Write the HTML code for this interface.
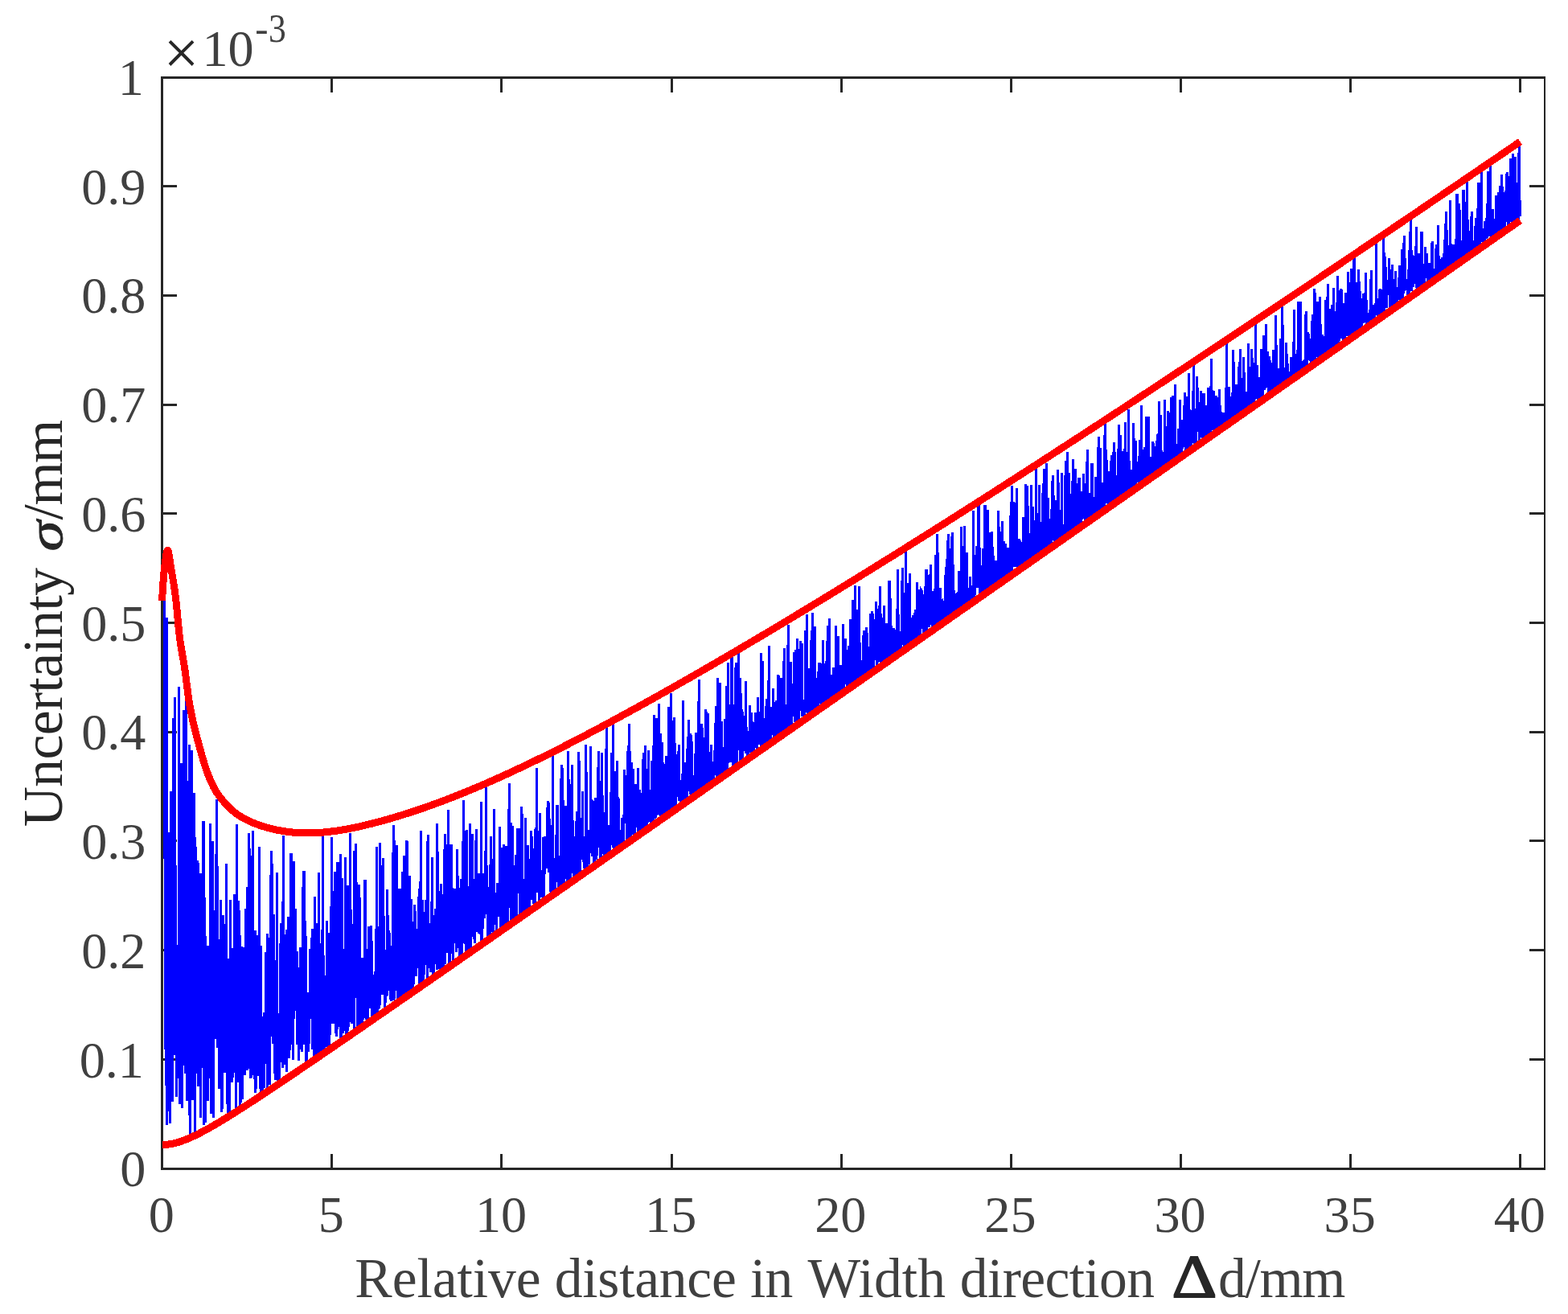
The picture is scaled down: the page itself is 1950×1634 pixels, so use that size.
<!DOCTYPE html>
<html lang="en"><head><meta charset="utf-8"><title>Uncertainty vs relative distance</title>
<style>html,body{margin:0;padding:0;background:#fff;}body{width:1950px;height:1634px;overflow:hidden;}</style></head>
<body>
<svg width="1950" height="1634" viewBox="0 0 1950 1634" style="display:block">
<rect x="0" y="0" width="1950" height="1634" fill="#ffffff"/>
<g shape-rendering="crispEdges">
<g fill="#262626">
<rect x="200" y="95" width="3" height="1360"/>
<rect x="200" y="95" width="1722" height="3"/>
<rect x="200" y="1452" width="1722" height="3"/>
<rect x="1920" y="95" width="2" height="1360"/>
<rect x="411" y="1435" width="3" height="18"/>
<rect x="411" y="97" width="3" height="18"/>
<rect x="622" y="1435" width="3" height="18"/>
<rect x="622" y="97" width="3" height="18"/>
<rect x="834" y="1435" width="3" height="18"/>
<rect x="834" y="97" width="3" height="18"/>
<rect x="1045" y="1435" width="3" height="18"/>
<rect x="1045" y="97" width="3" height="18"/>
<rect x="1256" y="1435" width="3" height="18"/>
<rect x="1256" y="97" width="3" height="18"/>
<rect x="1467" y="1435" width="3" height="18"/>
<rect x="1467" y="97" width="3" height="18"/>
<rect x="1678" y="1435" width="3" height="18"/>
<rect x="1678" y="97" width="3" height="18"/>
<rect x="1889" y="1435" width="3" height="18"/>
<rect x="1889" y="97" width="3" height="18"/>
<rect x="202" y="1316" width="18" height="3"/>
<rect x="1902" y="1316" width="19" height="3"/>
<rect x="202" y="1180" width="18" height="3"/>
<rect x="1902" y="1180" width="19" height="3"/>
<rect x="202" y="1044" width="18" height="3"/>
<rect x="1902" y="1044" width="19" height="3"/>
<rect x="202" y="909" width="18" height="3"/>
<rect x="1902" y="909" width="19" height="3"/>
<rect x="202" y="773" width="18" height="3"/>
<rect x="1902" y="773" width="19" height="3"/>
<rect x="202" y="637" width="18" height="3"/>
<rect x="1902" y="637" width="19" height="3"/>
<rect x="202" y="502" width="18" height="3"/>
<rect x="1902" y="502" width="19" height="3"/>
<rect x="202" y="366" width="18" height="3"/>
<rect x="1902" y="366" width="19" height="3"/>
<rect x="202" y="230" width="18" height="3"/>
<rect x="1902" y="230" width="19" height="3"/>
</g>
<clipPath id="plotclip"><rect x="203" y="98" width="1717" height="1354"/></clipPath>
<path d="M201.5,953.5 L201.9,948.6 L202.3,943.9 L202.8,939.4 L203.2,935.3 L203.6,715.9 L204.0,711.2 L204.5,707.2 L204.9,976.4 L205.3,1304.8 L205.7,1079.9 L206.1,1350.4 L206.6,1268.7 L207.0,767.9 L207.4,1399.4 L207.8,1104.8 L208.3,1381.9 L208.7,1360.8 L209.1,1249.7 L209.5,1070.9 L209.9,1034.9 L210.4,1318.3 L210.8,1222.7 L211.2,1277.9 L211.6,1396.7 L212.1,984.1 L212.5,1067.6 L212.9,991.6 L213.3,1305.5 L213.7,1343.3 L214.2,1275.1 L214.6,1370.1 L215.0,1312.6 L215.4,1276.4 L215.9,893.3 L216.3,1311.6 L216.7,1227.6 L217.1,866.8 L217.5,966.7 L218.0,1156.0 L218.4,1076.5 L218.8,1194.6 L219.2,1363.5 L219.7,1273.3 L220.1,1340.9 L220.5,1340.1 L220.9,1207.8 L221.3,1214.3 L221.8,1174.8 L222.2,1290.6 L222.6,854.4 L223.0,1337.8 L223.5,1373.1 L223.9,1334.2 L224.3,1234.5 L224.7,1286.3 L225.1,1046.4 L225.6,948.7 L226.0,1069.5 L226.4,1377.5 L226.8,1224.6 L227.3,1096.8 L227.7,1060.5 L228.1,1325.2 L228.5,1137.2 L228.9,882.8 L229.4,1087.0 L229.8,1054.2 L230.2,1335.3 L230.6,1222.2 L231.1,1175.0 L231.5,1314.4 L231.9,854.0 L232.3,1368.7 L232.7,1314.6 L233.2,971.0 L233.6,1091.0 L234.0,1282.6 L234.4,1233.6 L234.9,1100.7 L235.3,1386.8 L235.7,926.2 L236.1,1414.2 L236.5,1152.7 L237.0,1161.8 L237.4,1297.8 L237.8,1212.6 L238.2,932.8 L238.7,957.7 L239.1,1203.6 L239.5,1367.6 L239.9,1323.7 L240.3,1152.7 L240.8,1003.7 L241.2,986.0 L241.6,1152.0 L242.0,1041.0 L242.5,1220.9 L242.9,1408.2 L243.3,1176.5 L243.7,1053.2 L244.1,1159.3 L244.6,1220.1 L245.0,1186.2 L245.4,1317.9 L245.8,1069.6 L246.3,1350.6 L246.7,1072.8 L247.1,1284.7 L247.5,1149.9 L247.9,1266.3 L248.4,1104.1 L248.8,1086.4 L249.2,1262.2 L249.6,1389.9 L250.1,1183.2 L250.5,1140.0 L250.9,1085.6 L251.3,1110.2 L251.7,1162.7 L252.2,1327.8 L252.6,1235.3 L253.0,1020.8 L253.4,1398.6 L253.9,1209.5 L254.3,1116.3 L254.7,1354.2 L255.1,1164.2 L255.5,1396.2 L256.0,1329.1 L256.4,1278.4 L256.8,1280.2 L257.2,1343.8 L257.7,1240.0 L258.1,1369.3 L258.5,1176.4 L258.9,1220.0 L259.3,1223.0 L259.8,1341.1 L260.2,1207.9 L260.6,1320.6 L261.0,1255.7 L261.5,1024.3 L261.9,1215.4 L262.3,1168.5 L262.7,1384.6 L263.1,1335.6 L263.6,1336.9 L264.0,1327.6 L264.4,1206.0 L264.8,1046.3 L265.3,1375.6 L265.7,1389.7 L266.1,1132.3 L266.5,1178.3 L266.9,1259.8 L267.4,1175.9 L267.8,1175.6 L268.2,1230.2 L268.6,1291.7 L269.1,1020.4 L269.5,1215.9 L269.9,994.0 L270.3,1303.3 L270.7,1179.7 L271.2,1263.3 L271.6,1168.0 L272.0,1303.4 L272.4,1258.2 L272.9,1354.3 L273.3,1266.3 L273.7,1210.0 L274.1,1194.0 L274.5,1119.3 L275.0,1284.8 L275.4,1216.2 L275.8,1382.6 L276.2,1376.7 L276.7,1224.7 L277.1,1137.7 L277.5,1184.9 L277.9,1262.1 L278.3,1267.2 L278.8,1211.9 L279.2,1313.5 L279.6,1334.1 L280.0,1149.5 L280.5,1285.7 L280.9,1299.6 L281.3,1262.7 L281.7,1074.4 L282.1,1373.4 L282.6,1269.5 L283.0,1191.9 L283.4,1383.6 L283.8,1246.7 L284.3,1213.9 L284.7,1294.2 L285.1,1229.0 L285.5,1292.7 L285.9,1381.8 L286.4,1119.0 L286.8,1341.2 L287.2,1209.2 L287.6,1318.8 L288.1,1191.5 L288.5,1336.0 L288.9,1346.0 L289.3,1326.2 L289.8,1178.6 L290.2,1222.7 L290.6,1248.6 L291.0,1324.2 L291.4,1142.1 L291.9,1112.1 L292.3,1291.5 L292.7,1168.8 L293.1,1381.7 L293.6,1234.0 L294.0,1205.3 L294.4,1138.5 L294.8,1025.4 L295.2,1248.3 L295.7,1123.7 L296.1,1345.9 L296.5,1120.5 L296.9,1236.9 L297.4,1254.0 L297.8,1131.7 L298.2,1189.9 L298.6,1343.1 L299.0,1376.4 L299.5,1284.1 L299.9,1335.5 L300.3,1240.9 L300.7,1177.3 L301.2,1367.2 L301.6,1218.8 L302.0,1189.8 L302.4,1177.7 L302.8,1194.7 L303.3,1303.7 L303.7,1215.4 L304.1,1336.9 L304.5,1249.3 L305.0,1319.2 L305.4,1261.8 L305.8,1130.1 L306.2,1300.2 L306.6,1324.2 L307.1,1103.5 L307.5,1277.9 L307.9,1330.5 L308.3,1218.5 L308.8,1251.9 L309.2,1252.0 L309.6,1035.8 L310.0,1329.2 L310.4,1055.3 L310.9,1266.2 L311.3,1341.0 L311.7,1063.9 L312.1,1339.5 L312.6,1326.5 L313.0,1072.8 L313.4,1293.6 L313.8,1242.0 L314.2,1032.8 L314.7,1245.4 L315.1,1237.4 L315.5,1337.3 L315.9,1268.4 L316.4,1332.5 L316.8,1341.6 L317.2,1156.8 L317.6,1358.6 L318.0,1336.8 L318.5,1318.1 L318.9,1353.6 L319.3,1206.4 L319.7,1163.5 L320.2,1258.8 L320.6,1309.3 L321.0,1337.6 L321.4,1296.3 L321.8,1260.1 L322.3,1199.9 L322.7,1052.7 L323.1,1354.1 L323.5,1264.3 L324.0,1314.2 L324.4,1176.0 L324.8,1357.7 L325.2,1302.4 L325.6,1351.5 L326.1,1285.0 L326.5,1313.6 L326.9,1359.0 L327.3,1264.4 L327.8,1317.9 L328.2,1341.5 L328.6,1353.0 L329.0,1258.7 L329.4,1322.7 L329.9,1283.6 L330.3,1304.5 L330.7,1184.4 L331.1,1307.2 L331.6,1211.1 L332.0,1276.2 L332.4,1161.1 L332.8,1354.0 L333.2,1165.7 L333.7,1326.1 L334.1,1283.9 L334.5,1246.0 L334.9,1346.7 L335.4,1324.5 L335.8,1349.1 L336.2,1088.1 L336.6,1236.9 L337.0,1214.4 L337.5,1248.8 L337.9,1058.2 L338.3,1115.9 L338.7,1274.2 L339.2,1297.8 L339.6,1277.1 L340.0,1148.5 L340.4,1280.7 L340.8,1137.0 L341.3,1335.1 L341.7,1217.1 L342.1,1343.1 L342.5,1263.8 L343.0,1278.5 L343.4,1321.0 L343.8,1329.8 L344.2,1085.0 L344.6,1289.1 L345.1,1345.8 L345.5,1303.8 L345.9,1328.1 L346.3,1328.2 L346.8,1334.5 L347.2,1346.5 L347.6,1291.3 L348.0,1260.3 L348.4,1321.0 L348.9,1183.6 L349.3,1148.2 L349.7,1265.1 L350.1,1250.9 L350.6,1308.5 L351.0,1274.9 L351.4,1120.9 L351.8,1327.8 L352.2,1038.9 L352.7,1182.1 L353.1,1272.9 L353.5,1296.6 L353.9,1323.9 L354.4,1162.5 L354.8,1320.0 L355.2,1207.2 L355.6,1179.6 L356.0,1211.1 L356.5,1156.1 L356.9,1332.9 L357.3,1200.3 L357.7,1313.6 L358.2,1140.2 L358.6,1187.0 L359.0,1215.0 L359.4,1316.4 L359.8,1223.6 L360.3,1305.6 L360.7,1172.9 L361.1,1262.7 L361.5,1299.1 L362.0,1060.7 L362.4,1296.2 L362.8,1257.2 L363.2,1213.6 L363.6,1284.4 L364.1,1199.5 L364.5,1317.8 L364.9,1133.9 L365.3,1071.5 L365.8,1266.9 L366.2,1223.0 L366.6,1242.8 L367.0,1130.1 L367.4,1254.0 L367.9,1249.1 L368.3,1256.8 L368.7,1196.0 L369.1,1182.6 L369.6,1299.0 L370.0,1248.8 L370.4,1266.8 L370.8,1203.0 L371.2,1294.9 L371.7,1319.4 L372.1,1264.1 L372.5,1287.0 L372.9,1289.2 L373.4,1178.3 L373.8,1244.3 L374.2,1304.9 L374.6,1265.6 L375.0,1297.3 L375.5,1307.6 L375.9,1286.3 L376.3,1102.8 L376.7,1275.3 L377.2,1289.7 L377.6,1298.9 L378.0,1083.5 L378.4,1251.4 L378.8,1237.0 L379.3,1209.5 L379.7,1145.4 L380.1,1221.5 L380.5,1164.4 L381.0,1321.7 L381.4,1269.1 L381.8,1263.1 L382.2,1234.1 L382.6,1246.9 L383.1,1308.0 L383.5,1291.8 L383.9,1274.3 L384.3,1298.4 L384.8,1237.9 L385.2,1250.3 L385.6,1179.9 L386.0,1190.6 L386.4,1266.7 L386.9,1258.7 L387.3,1166.0 L387.7,1259.2 L388.1,1191.8 L388.6,1304.8 L389.0,1155.4 L389.4,1218.6 L389.8,1242.0 L390.2,1317.9 L390.7,1268.9 L391.1,1232.4 L391.5,1115.0 L391.9,1271.8 L392.4,1194.8 L392.8,1313.1 L393.2,1294.9 L393.6,1294.2 L394.0,1299.0 L394.5,1148.2 L394.9,1186.6 L395.3,1266.4 L395.7,1314.5 L396.2,1314.0 L396.6,1084.9 L397.0,1186.8 L397.4,1289.8 L397.8,1293.3 L398.3,1265.9 L398.7,1258.4 L399.1,1309.4 L399.5,1173.3 L400.0,1308.1 L400.4,1250.6 L400.8,1206.3 L401.2,1116.0 L401.6,1039.4 L402.1,1305.2 L402.5,1295.6 L402.9,1188.2 L403.3,1279.2 L403.8,1308.3 L404.2,1295.5 L404.6,1266.6 L405.0,1298.6 L405.4,1298.9 L405.9,1217.5 L406.3,1240.2 L406.7,1145.2 L407.1,1305.0 L407.6,1197.7 L408.0,1281.7 L408.4,1259.5 L408.8,1252.8 L409.2,1304.5 L409.7,1159.9 L410.1,1278.5 L410.5,1287.4 L410.9,1169.0 L411.4,1246.6 L411.8,1235.8 L412.2,1041.5 L412.6,1273.3 L413.0,1107.6 L413.5,1224.9 L413.9,1272.6 L414.3,1271.6 L414.7,1271.1 L415.2,1259.6 L415.6,1269.8 L416.0,1259.3 L416.4,1084.1 L416.8,1233.9 L417.3,1212.9 L417.7,1285.2 L418.1,1267.8 L418.5,1254.1 L419.0,1288.5 L419.4,1072.2 L419.8,1101.5 L420.2,1203.9 L420.6,1181.3 L421.1,1251.4 L421.5,1273.9 L421.9,1240.0 L422.3,1276.8 L422.8,1072.4 L423.2,1295.6 L423.6,1062.5 L424.0,1252.0 L424.4,1292.3 L424.9,1251.8 L425.3,1092.2 L425.7,1271.0 L426.1,1285.2 L426.6,1194.6 L427.0,1241.4 L427.4,1265.9 L427.8,1180.3 L428.2,1223.3 L428.7,1281.8 L429.1,1169.6 L429.5,1066.2 L429.9,1210.1 L430.4,1162.9 L430.8,1287.5 L431.2,1102.4 L431.6,1290.0 L432.0,1100.6 L432.5,1282.2 L432.9,1206.8 L433.3,1277.4 L433.7,1249.5 L434.2,1233.1 L434.6,1207.5 L435.0,1270.3 L435.4,1252.3 L435.8,1035.9 L436.3,1268.0 L436.7,1260.9 L437.1,1273.4 L437.5,1153.5 L438.0,1231.2 L438.4,1211.7 L438.8,1236.7 L439.2,1149.5 L439.6,1239.9 L440.1,1271.7 L440.5,1282.0 L440.9,1057.6 L441.3,1222.7 L441.8,1240.5 L442.2,1213.4 L442.6,1049.4 L443.0,1100.5 L443.4,1097.1 L443.9,1119.5 L444.3,1176.0 L444.7,1280.2 L445.1,1260.5 L445.6,1274.0 L446.0,1270.4 L446.4,1099.8 L446.8,1276.0 L447.2,1116.2 L447.7,1246.9 L448.1,1261.8 L448.5,1225.3 L448.9,1263.3 L449.4,1238.2 L449.8,1269.7 L450.2,1276.6 L450.6,1191.2 L451.0,1254.7 L451.5,1267.7 L451.9,1250.3 L452.3,1266.4 L452.7,1252.7 L453.2,1255.9 L453.6,1259.9 L454.0,1094.3 L454.4,1203.7 L454.9,1194.1 L455.3,1180.3 L455.7,1268.3 L456.1,1215.9 L456.5,1214.0 L457.0,1217.1 L457.4,1266.9 L457.8,1253.3 L458.2,1152.3 L458.7,1171.9 L459.1,1234.8 L459.5,1254.4 L459.9,1193.0 L460.3,1228.9 L460.8,1250.7 L461.2,1240.2 L461.6,1151.4 L462.0,1169.5 L462.5,1180.9 L462.9,1263.6 L463.3,1248.1 L463.7,1211.7 L464.1,1215.2 L464.6,1237.9 L465.0,1228.8 L465.4,1231.1 L465.8,1265.7 L466.3,1208.3 L466.7,1260.7 L467.1,1231.3 L467.5,1155.4 L467.9,1256.6 L468.4,1207.9 L468.8,1053.3 L469.2,1242.8 L469.6,1261.8 L470.1,1158.6 L470.5,1222.1 L470.9,1255.2 L471.3,1249.9 L471.7,1190.6 L472.2,1250.0 L472.6,1047.9 L473.0,1212.6 L473.4,1076.1 L473.9,1125.7 L474.3,1194.0 L474.7,1233.8 L475.1,1190.3 L475.5,1237.4 L476.0,1125.9 L476.4,1067.1 L476.8,1157.8 L477.2,1176.6 L477.7,1138.9 L478.1,1258.1 L478.5,1201.6 L478.9,1257.0 L479.3,1222.7 L479.8,1216.9 L480.2,1224.3 L480.6,1181.3 L481.0,1238.6 L481.5,1223.2 L481.9,1106.4 L482.3,1224.8 L482.7,1215.9 L483.1,1185.3 L483.6,1232.1 L484.0,1157.4 L484.4,1213.6 L484.8,1197.2 L485.3,1176.1 L485.7,1236.6 L486.1,1244.7 L486.5,1236.0 L486.9,1184.3 L487.4,1215.2 L487.8,1238.3 L488.2,1221.7 L488.6,1237.0 L489.1,1026.0 L489.5,1163.7 L489.9,1243.7 L490.3,1237.3 L490.7,1045.0 L491.2,1217.3 L491.6,1085.7 L492.0,1232.0 L492.4,1133.9 L492.9,1158.4 L493.3,1207.5 L493.7,1051.2 L494.1,1205.9 L494.5,1204.0 L495.0,1244.0 L495.4,1187.0 L495.8,1105.3 L496.2,1240.8 L496.7,1234.9 L497.1,1172.6 L497.5,1104.7 L497.9,1241.2 L498.3,1239.2 L498.8,1207.9 L499.2,1127.3 L499.6,1212.3 L500.0,1126.4 L500.5,1083.7 L500.9,1200.5 L501.3,1135.8 L501.7,1239.2 L502.1,1063.9 L502.6,1237.8 L503.0,1182.6 L503.4,1240.5 L503.8,1175.0 L504.3,1083.5 L504.7,1183.6 L505.1,1153.2 L505.5,1212.1 L505.9,1044.8 L506.4,1050.8 L506.8,1237.0 L507.2,1136.1 L507.6,1234.9 L508.1,1179.1 L508.5,1230.2 L508.9,1228.1 L509.3,1089.3 L509.7,1203.5 L510.2,1178.9 L510.6,1233.5 L511.0,1207.4 L511.4,1219.1 L511.9,1118.3 L512.3,1221.6 L512.7,1215.8 L513.1,1218.9 L513.5,1231.3 L514.0,1191.4 L514.4,1176.9 L514.8,1224.2 L515.2,1185.9 L515.7,1125.0 L516.1,1197.1 L516.5,1148.0 L516.9,1133.0 L517.3,1213.6 L517.8,1180.7 L518.2,1165.7 L518.6,1184.8 L519.0,1181.3 L519.5,1195.4 L519.9,1204.3 L520.3,1123.6 L520.7,1157.3 L521.1,1105.5 L521.6,1227.7 L522.0,1118.8 L522.4,1195.7 L522.8,1096.5 L523.3,1200.5 L523.7,1032.6 L524.1,1220.2 L524.5,1225.9 L524.9,1200.0 L525.4,1176.5 L525.8,1119.3 L526.2,1223.4 L526.6,1182.2 L527.1,1157.7 L527.5,1207.5 L527.9,1211.5 L528.3,1171.9 L528.7,1133.7 L529.2,1196.9 L529.6,1118.7 L530.0,1179.4 L530.4,1130.2 L530.9,1125.1 L531.3,1220.2 L531.7,1077.0 L532.1,1037.8 L532.5,1183.8 L533.0,1160.8 L533.4,1175.6 L533.8,1200.3 L534.2,1174.1 L534.7,1199.4 L535.1,1204.7 L535.5,1209.3 L535.9,1148.0 L536.3,1166.0 L536.8,1189.5 L537.2,1066.4 L537.6,1197.8 L538.0,1142.7 L538.5,1211.9 L538.9,1203.7 L539.3,1207.7 L539.7,1215.5 L540.1,1138.3 L540.6,1154.6 L541.0,1199.1 L541.4,1182.5 L541.8,1129.7 L542.3,1158.1 L542.7,1166.5 L543.1,1201.3 L543.5,1205.8 L543.9,1024.0 L544.4,1182.8 L544.8,1148.3 L545.2,1204.6 L545.6,1135.5 L546.1,1117.9 L546.5,1198.6 L546.9,1107.7 L547.3,1197.4 L547.7,1193.2 L548.2,1209.0 L548.6,1098.9 L549.0,1203.7 L549.4,1112.4 L549.9,1154.5 L550.3,1202.9 L550.7,1195.1 L551.1,1121.5 L551.5,1171.5 L552.0,1201.4 L552.4,1056.1 L552.8,1159.6 L553.2,1036.6 L553.7,1198.8 L554.1,1147.1 L554.5,1173.0 L554.9,1159.1 L555.3,1131.8 L555.8,1184.8 L556.2,1168.2 L556.6,1124.8 L557.0,1049.6 L557.5,1135.0 L557.9,1006.7 L558.3,1176.1 L558.7,1201.2 L559.1,1185.0 L559.6,1201.3 L560.0,1153.9 L560.4,1169.9 L560.8,1122.5 L561.3,1186.3 L561.7,1050.3 L562.1,1119.7 L562.5,1183.2 L562.9,1164.6 L563.4,1199.0 L563.8,1107.7 L564.2,1172.0 L564.6,1150.0 L565.1,1105.0 L565.5,1173.2 L565.9,1138.1 L566.3,1139.3 L566.7,1168.5 L567.2,1143.9 L567.6,1183.9 L568.0,1181.9 L568.4,1136.7 L568.9,1055.6 L569.3,1174.6 L569.7,1114.5 L570.1,1166.7 L570.5,1166.7 L571.0,1172.6 L571.4,1188.6 L571.8,1146.2 L572.2,1145.1 L572.7,1104.5 L573.1,1136.1 L573.5,1093.4 L573.9,1188.8 L574.3,1191.0 L574.8,1136.1 L575.2,1152.8 L575.6,1173.0 L576.0,1047.1 L576.5,995.5 L576.9,996.5 L577.3,1133.8 L577.7,1168.1 L578.1,1174.4 L578.6,1158.6 L579.0,1165.9 L579.4,1086.2 L579.8,1187.6 L580.3,1031.9 L580.7,1149.5 L581.1,1184.4 L581.5,1165.0 L581.9,1159.0 L582.4,1151.9 L582.8,1111.4 L583.2,1102.5 L583.6,1119.6 L584.1,1180.0 L584.5,1024.1 L584.9,1183.0 L585.3,1181.4 L585.7,1042.9 L586.2,1163.7 L586.6,1116.4 L587.0,1036.6 L587.4,1164.9 L587.9,1147.4 L588.3,1125.3 L588.7,1093.3 L589.1,1138.2 L589.5,1116.7 L590.0,1167.7 L590.4,1172.6 L590.8,1095.0 L591.2,1106.1 L591.7,1102.7 L592.1,1031.0 L592.5,1129.4 L592.9,1130.4 L593.3,1159.2 L593.8,1121.7 L594.2,1157.9 L594.6,1134.5 L595.0,1121.8 L595.5,1085.6 L595.9,1160.8 L596.3,1145.6 L596.7,1143.2 L597.1,1162.1 L597.6,1150.9 L598.0,1160.0 L598.4,996.6 L598.8,1174.4 L599.3,1172.9 L599.7,1171.6 L600.1,1119.4 L600.5,1154.6 L600.9,1125.1 L601.4,1134.5 L601.8,1085.9 L602.2,1142.2 L602.6,1107.0 L603.1,1088.9 L603.5,1081.3 L603.9,1093.4 L604.3,974.5 L604.7,1136.7 L605.2,1094.3 L605.6,1076.3 L606.0,1125.5 L606.4,1165.4 L606.9,1147.5 L607.3,1152.5 L607.7,1156.8 L608.1,1148.4 L608.5,1103.4 L609.0,1166.9 L609.4,1163.1 L609.8,1117.9 L610.2,1039.8 L610.7,1159.1 L611.1,1141.1 L611.5,1119.7 L611.9,1067.6 L612.3,1132.4 L612.8,1154.0 L613.2,1162.4 L613.6,1148.7 L614.0,1150.5 L614.5,1005.6 L614.9,1144.8 L615.3,1149.9 L615.7,1144.4 L616.1,1131.0 L616.6,1135.3 L617.0,1118.1 L617.4,1158.4 L617.8,1119.3 L618.3,1097.6 L618.7,1118.0 L619.1,1098.6 L619.5,1108.3 L619.9,1139.7 L620.4,1114.6 L620.8,1130.5 L621.2,1123.9 L621.6,1028.5 L622.1,1154.3 L622.5,1154.0 L622.9,1129.1 L623.3,1150.1 L623.8,1152.7 L624.2,1156.8 L624.6,1054.1 L625.0,1105.0 L625.4,1141.6 L625.9,1125.5 L626.3,1059.2 L626.7,1050.4 L627.1,1154.1 L627.6,1148.7 L628.0,1100.8 L628.4,1151.7 L628.8,1134.5 L629.2,1149.1 L629.7,1051.8 L630.1,1083.5 L630.5,1126.3 L630.9,1143.4 L631.4,1150.9 L631.8,1106.5 L632.2,1117.9 L632.6,1066.3 L633.0,1006.8 L633.5,974.0 L633.9,1085.1 L634.3,1129.4 L634.7,1118.8 L635.2,1095.7 L635.6,1022.6 L636.0,1144.6 L636.4,1088.6 L636.8,1046.6 L637.3,1038.5 L637.7,1027.1 L638.1,1139.8 L638.5,1144.2 L639.0,1135.8 L639.4,1080.4 L639.8,1144.1 L640.2,1142.2 L640.6,1144.7 L641.1,1063.1 L641.5,1079.7 L641.9,1134.9 L642.3,1123.6 L642.8,1141.0 L643.2,1029.8 L643.6,1111.4 L644.0,1071.1 L644.4,1109.2 L644.9,1102.6 L645.3,1030.4 L645.7,1108.7 L646.1,1095.2 L646.6,1069.4 L647.0,1140.6 L647.4,1114.4 L647.8,1134.1 L648.2,1002.9 L648.7,1056.2 L649.1,1012.4 L649.5,1136.8 L649.9,1137.0 L650.4,1116.7 L650.8,1129.1 L651.2,1133.3 L651.6,1104.5 L652.0,1108.1 L652.5,1093.1 L652.9,1135.3 L653.3,1017.2 L653.7,1130.5 L654.2,1084.3 L654.6,1107.1 L655.0,1133.3 L655.4,1129.7 L655.8,1123.7 L656.3,1124.7 L656.7,1050.6 L657.1,1084.6 L657.5,1128.4 L658.0,1075.3 L658.4,1127.4 L658.8,1068.3 L659.2,1086.9 L659.6,1114.1 L660.1,1070.2 L660.5,1052.9 L660.9,1033.5 L661.3,1056.9 L661.8,1119.3 L662.2,1109.2 L662.6,1057.6 L663.0,1105.8 L663.4,1123.8 L663.9,1085.4 L664.3,1054.7 L664.7,1107.0 L665.1,1128.5 L665.6,1106.0 L666.0,1031.6 L666.4,1029.1 L666.8,1105.5 L667.2,1109.9 L667.7,955.4 L668.1,1058.3 L668.5,1102.9 L668.9,1032.6 L669.4,1059.1 L669.8,1086.2 L670.2,1062.2 L670.6,1124.6 L671.0,1091.0 L671.5,1011.4 L671.9,1088.8 L672.3,1109.4 L672.7,1086.7 L673.2,1112.6 L673.6,1116.1 L674.0,1098.2 L674.4,1084.6 L674.8,1082.4 L675.3,1088.1 L675.7,1040.9 L676.1,1117.1 L676.5,1040.7 L677.0,1090.3 L677.4,1039.8 L677.8,1083.7 L678.2,1052.0 L678.6,1061.6 L679.1,1050.6 L679.5,1076.9 L679.9,1080.3 L680.3,1003.8 L680.8,1072.3 L681.2,1009.3 L681.6,1031.7 L682.0,996.2 L682.4,1036.1 L682.9,1084.9 L683.3,1017.8 L683.7,1032.0 L684.1,1038.9 L684.6,1109.2 L685.0,1025.6 L685.4,1111.0 L685.8,1080.9 L686.2,1107.0 L686.7,1109.4 L687.1,1065.6 L687.5,938.2 L687.9,1060.2 L688.4,1098.1 L688.8,1097.0 L689.2,1066.8 L689.6,1099.3 L690.0,1110.2 L690.5,1067.3 L690.9,1104.8 L691.3,1038.4 L691.7,1096.7 L692.2,1084.4 L692.6,1023.9 L693.0,1001.3 L693.4,1071.5 L693.8,1087.5 L694.3,1063.6 L694.7,1103.1 L695.1,1106.1 L695.5,1078.4 L696.0,1100.8 L696.4,1090.9 L696.8,1101.0 L697.2,1073.9 L697.6,1056.9 L698.1,950.9 L698.5,1101.1 L698.9,1082.7 L699.3,955.2 L699.8,1079.6 L700.2,1002.9 L700.6,994.8 L701.0,1091.4 L701.4,1092.2 L701.9,1102.1 L702.3,1020.8 L702.7,1053.3 L703.1,1058.8 L703.6,1001.6 L704.0,1016.9 L704.4,1029.5 L704.8,1086.3 L705.2,1098.7 L705.7,1065.4 L706.1,1043.9 L706.5,1098.0 L706.9,934.2 L707.4,1093.8 L707.8,1097.2 L708.2,1096.8 L708.6,1072.2 L709.0,1094.5 L709.5,1025.6 L709.9,974.9 L710.3,1061.4 L710.7,1059.5 L711.2,950.6 L711.6,1086.0 L712.0,1018.5 L712.4,1058.9 L712.8,1059.2 L713.3,1065.6 L713.7,1088.0 L714.1,1093.1 L714.5,1091.8 L715.0,1040.4 L715.4,1093.1 L715.8,1086.6 L716.2,1088.4 L716.6,1086.0 L717.1,1008.7 L717.5,1088.0 L717.9,1090.6 L718.3,1089.0 L718.8,1086.3 L719.2,1034.3 L719.6,935.1 L720.0,939.8 L720.4,1085.5 L720.9,1054.0 L721.3,1033.8 L721.7,1085.8 L722.1,1017.0 L722.6,1053.1 L723.0,1069.3 L723.4,1057.6 L723.8,1036.7 L724.2,1039.6 L724.7,983.9 L725.1,1072.2 L725.5,1058.7 L725.9,1043.9 L726.4,1080.1 L726.8,1040.5 L727.2,1055.3 L727.6,1042.2 L728.0,1084.6 L728.5,965.5 L728.9,926.5 L729.3,1050.1 L729.7,1001.4 L730.2,1082.5 L730.6,1055.6 L731.0,1045.9 L731.4,1063.6 L731.8,1036.6 L732.3,1074.5 L732.7,1032.4 L733.1,1056.5 L733.5,1060.6 L734.0,1049.8 L734.4,928.4 L734.8,934.2 L735.2,1048.7 L735.6,1041.2 L736.1,1064.8 L736.5,1035.2 L736.9,1026.2 L737.3,1012.4 L737.8,997.4 L738.2,997.8 L738.6,1073.7 L739.0,1076.2 L739.4,1076.5 L739.9,1050.4 L740.3,1055.5 L740.7,991.6 L741.1,1069.3 L741.6,1044.9 L742.0,1036.6 L742.4,1064.3 L742.8,1019.1 L743.2,1047.2 L743.7,1032.4 L744.1,933.9 L744.5,1016.6 L744.9,1054.0 L745.4,970.9 L745.8,988.5 L746.2,1055.0 L746.6,998.3 L747.0,1070.9 L747.5,1026.5 L747.9,1058.9 L748.3,935.6 L748.7,1038.5 L749.2,1016.4 L749.6,989.0 L750.0,1007.4 L750.4,1062.0 L750.8,1048.6 L751.3,1064.0 L751.7,1067.8 L752.1,1048.6 L752.5,1066.7 L753.0,1058.8 L753.4,1008.8 L753.8,930.6 L754.2,1062.0 L754.6,904.3 L755.1,1055.2 L755.5,1060.8 L755.9,1053.9 L756.3,1051.8 L756.8,1062.6 L757.2,1043.0 L757.6,1046.8 L758.0,1026.2 L758.4,1062.9 L758.9,1061.7 L759.3,1025.2 L759.7,984.6 L760.1,1018.1 L760.6,936.0 L761.0,1020.7 L761.4,1036.6 L761.8,1048.3 L762.2,898.5 L762.7,1037.9 L763.1,1058.1 L763.5,1049.0 L763.9,1039.0 L764.4,1053.3 L764.8,1029.7 L765.2,966.1 L765.6,1031.2 L766.0,958.6 L766.5,1052.9 L766.9,1040.8 L767.3,945.8 L767.7,1049.3 L768.2,1056.7 L768.6,1041.2 L769.0,991.4 L769.4,1041.3 L769.8,1054.1 L770.3,1033.5 L770.7,1044.0 L771.1,1046.2 L771.5,1033.3 L772.0,1047.0 L772.4,1035.8 L772.8,1051.3 L773.2,1017.3 L773.6,1052.1 L774.1,1029.4 L774.5,1046.9 L774.9,1040.2 L775.3,1046.0 L775.8,1030.9 L776.2,997.6 L776.6,957.0 L777.0,1014.1 L777.4,1024.4 L777.9,994.6 L778.3,1007.8 L778.7,1005.1 L779.1,1009.6 L779.6,963.9 L780.0,1046.5 L780.4,934.0 L780.8,995.6 L781.2,1042.5 L781.7,1037.6 L782.1,899.7 L782.5,976.0 L782.9,923.0 L783.4,969.7 L783.8,1027.3 L784.2,1043.7 L784.6,995.0 L785.0,949.3 L785.5,1001.1 L785.9,948.5 L786.3,1006.7 L786.7,985.1 L787.2,1018.8 L787.6,955.6 L788.0,1037.7 L788.4,1005.3 L788.8,1001.2 L789.3,998.8 L789.7,1037.5 L790.1,1009.8 L790.5,1020.4 L791.0,975.3 L791.4,1029.1 L791.8,999.6 L792.2,993.3 L792.6,1018.6 L793.1,1025.2 L793.5,954.6 L793.9,1037.9 L794.3,1025.2 L794.8,1003.4 L795.2,1020.1 L795.6,982.1 L796.0,1036.8 L796.5,1027.6 L796.9,1022.9 L797.3,1010.1 L797.7,1035.9 L798.1,998.7 L798.6,1032.4 L799.0,987.8 L799.4,944.5 L799.8,1025.3 L800.3,1005.5 L800.7,936.4 L801.1,1000.4 L801.5,1031.3 L801.9,1014.6 L802.4,927.2 L802.8,938.5 L803.2,971.6 L803.6,971.6 L804.1,1029.2 L804.5,962.8 L804.9,970.0 L805.3,1014.5 L805.7,1022.5 L806.2,933.3 L806.6,1010.9 L807.0,1001.9 L807.4,1021.9 L807.9,996.5 L808.3,981.7 L808.7,992.1 L809.1,984.7 L809.5,1006.1 L810.0,1026.7 L810.4,974.2 L810.8,945.8 L811.2,1007.8 L811.7,999.4 L812.1,1021.6 L812.5,1012.0 L812.9,926.7 L813.3,1012.2 L813.8,889.1 L814.2,1014.2 L814.6,971.5 L815.0,1018.4 L815.5,974.2 L815.9,893.0 L816.3,1012.6 L816.7,994.3 L817.1,893.4 L817.6,998.3 L818.0,1000.0 L818.4,1010.9 L818.8,1010.4 L819.3,875.0 L819.7,1004.0 L820.1,962.1 L820.5,1014.3 L820.9,963.8 L821.4,1019.0 L821.8,911.9 L822.2,1003.7 L822.6,1006.1 L823.1,998.3 L823.5,1006.6 L823.9,922.9 L824.3,1015.5 L824.7,978.7 L825.2,1016.1 L825.6,1004.7 L826.0,1005.4 L826.4,949.7 L826.9,1002.5 L827.3,978.2 L827.7,1014.2 L828.1,939.7 L828.5,993.5 L829.0,995.8 L829.4,1009.9 L829.8,1005.9 L830.2,963.3 L830.7,1012.8 L831.1,1007.4 L831.5,879.3 L831.9,961.3 L832.3,979.1 L832.8,947.0 L833.2,1011.0 L833.6,982.0 L834.0,995.6 L834.5,1005.1 L834.9,861.9 L835.3,985.8 L835.7,985.8 L836.1,970.9 L836.6,898.8 L837.0,934.6 L837.4,1006.6 L837.8,982.8 L838.3,896.9 L838.7,891.8 L839.1,933.4 L839.5,1006.9 L839.9,951.2 L840.4,1004.8 L840.8,981.8 L841.2,967.1 L841.6,942.3 L842.1,990.5 L842.5,937.6 L842.9,989.1 L843.3,943.3 L843.7,948.7 L844.2,925.6 L844.6,988.2 L845.0,996.0 L845.4,969.7 L845.9,979.9 L846.3,978.8 L846.7,1001.5 L847.1,1001.3 L847.5,981.2 L848.0,984.3 L848.4,961.7 L848.8,981.0 L849.2,989.0 L849.7,870.9 L850.1,999.6 L850.5,993.6 L850.9,995.4 L851.3,992.4 L851.8,982.7 L852.2,947.9 L852.6,976.2 L853.0,987.2 L853.5,955.1 L853.9,987.7 L854.3,956.2 L854.7,992.6 L855.1,916.0 L855.6,975.4 L856.0,968.3 L856.4,895.1 L856.8,926.9 L857.3,983.5 L857.7,957.3 L858.1,988.2 L858.5,960.0 L858.9,911.7 L859.4,952.1 L859.8,914.5 L860.2,929.7 L860.6,974.1 L861.1,964.0 L861.5,990.3 L861.9,982.0 L862.3,981.3 L862.7,986.6 L863.2,976.0 L863.6,981.0 L864.0,989.3 L864.4,989.4 L864.9,936.7 L865.3,970.9 L865.7,911.2 L866.1,962.3 L866.5,947.1 L867.0,987.6 L867.4,946.1 L867.8,987.3 L868.2,903.3 L868.7,980.9 L869.1,844.6 L869.5,982.0 L869.9,980.6 L870.3,977.8 L870.8,976.6 L871.2,922.2 L871.6,967.6 L872.0,973.0 L872.5,979.1 L872.9,900.2 L873.3,939.0 L873.7,904.8 L874.1,931.5 L874.6,916.6 L875.0,978.4 L875.4,948.3 L875.8,920.3 L876.3,949.0 L876.7,978.3 L877.1,961.8 L877.5,926.1 L877.9,881.7 L878.4,896.4 L878.8,950.0 L879.2,949.4 L879.6,978.9 L880.1,886.6 L880.5,927.1 L880.9,937.9 L881.3,962.8 L881.7,972.0 L882.2,935.5 L882.6,966.1 L883.0,969.2 L883.4,955.4 L883.9,966.9 L884.3,975.7 L884.7,925.9 L885.1,957.5 L885.5,953.4 L886.0,952.5 L886.4,953.5 L886.8,953.8 L887.2,947.0 L887.7,968.9 L888.1,962.3 L888.5,932.7 L888.9,946.5 L889.3,898.7 L889.8,964.1 L890.2,942.4 L890.6,878.4 L891.0,961.7 L891.5,967.6 L891.9,967.0 L892.3,843.0 L892.7,852.1 L893.1,963.9 L893.6,962.1 L894.0,960.1 L894.4,958.6 L894.8,919.0 L895.3,963.9 L895.7,849.3 L896.1,937.2 L896.5,951.4 L896.9,963.1 L897.4,957.9 L897.8,896.9 L898.2,958.4 L898.6,958.2 L899.1,947.7 L899.5,961.5 L899.9,953.9 L900.3,957.1 L900.7,954.3 L901.2,963.0 L901.6,943.6 L902.0,894.5 L902.4,950.7 L902.9,963.0 L903.3,956.1 L903.7,853.4 L904.1,913.0 L904.5,960.6 L905.0,933.0 L905.4,824.5 L905.8,949.1 L906.2,943.4 L906.7,875.8 L907.1,943.1 L907.5,906.4 L907.9,895.4 L908.3,880.4 L908.8,948.1 L909.2,940.8 L909.6,926.9 L910.0,816.7 L910.5,941.5 L910.9,945.8 L911.3,935.3 L911.7,933.8 L912.1,956.5 L912.6,927.0 L913.0,875.8 L913.4,937.2 L913.8,911.1 L914.3,955.1 L914.7,853.3 L915.1,823.6 L915.5,922.8 L915.9,951.7 L916.4,944.7 L916.8,881.8 L917.2,928.6 L917.6,873.4 L918.1,844.9 L918.5,927.5 L918.9,812.4 L919.3,926.5 L919.7,920.1 L920.2,939.5 L920.6,843.3 L921.0,946.4 L921.4,947.0 L921.9,861.6 L922.3,934.6 L922.7,947.5 L923.1,947.4 L923.5,885.1 L924.0,934.7 L924.4,926.7 L924.8,893.2 L925.2,892.7 L925.7,927.0 L926.1,916.8 L926.5,924.7 L926.9,926.1 L927.3,846.9 L927.8,936.5 L928.2,904.4 L928.6,909.6 L929.0,915.1 L929.5,939.7 L929.9,943.9 L930.3,922.7 L930.7,938.8 L931.1,932.2 L931.6,936.0 L932.0,909.6 L932.4,909.8 L932.8,876.8 L933.3,910.7 L933.7,903.2 L934.1,938.6 L934.5,940.8 L934.9,886.1 L935.4,931.9 L935.8,920.7 L936.2,939.8 L936.6,897.8 L937.1,939.0 L937.5,936.2 L937.9,918.5 L938.3,915.0 L938.7,918.8 L939.2,928.0 L939.6,915.8 L940.0,885.8 L940.4,930.3 L940.9,912.4 L941.3,909.8 L941.7,932.3 L942.1,923.5 L942.5,866.8 L943.0,913.1 L943.4,893.8 L943.8,925.0 L944.2,925.8 L944.7,912.3 L945.1,911.6 L945.5,893.6 L945.9,917.1 L946.3,811.9 L946.8,932.4 L947.2,902.7 L947.6,915.0 L948.0,891.0 L948.5,821.6 L948.9,886.5 L949.3,908.8 L949.7,929.2 L950.1,901.2 L950.6,921.8 L951.0,913.9 L951.4,929.2 L951.8,922.1 L952.3,895.5 L952.7,915.5 L953.1,869.5 L953.5,917.3 L953.9,925.5 L954.4,918.3 L954.8,918.6 L955.2,915.9 L955.6,846.3 L956.1,907.4 L956.5,802.8 L956.9,924.9 L957.3,905.8 L957.7,915.8 L958.2,879.1 L958.6,923.9 L959.0,914.7 L959.4,906.7 L959.9,898.3 L960.3,908.6 L960.7,907.3 L961.1,901.9 L961.5,855.7 L962.0,907.0 L962.4,920.1 L962.8,884.7 L963.2,874.3 L963.7,920.2 L964.1,914.3 L964.5,902.7 L964.9,873.3 L965.4,895.4 L965.8,871.0 L966.2,913.7 L966.6,913.2 L967.0,886.4 L967.5,907.9 L967.9,838.8 L968.3,899.8 L968.7,839.8 L969.2,908.6 L969.6,879.8 L970.0,915.3 L970.4,909.3 L970.8,863.2 L971.3,872.8 L971.7,842.8 L972.1,913.8 L972.5,911.9 L973.0,911.4 L973.4,911.9 L973.8,912.2 L974.2,882.5 L974.6,907.2 L975.1,805.9 L975.5,901.7 L975.9,878.1 L976.3,877.9 L976.8,904.7 L977.2,884.5 L977.6,884.8 L978.0,908.4 L978.4,908.9 L978.9,908.8 L979.3,880.4 L979.7,906.3 L980.1,777.2 L980.6,794.9 L981.0,824.6 L981.4,873.0 L981.8,866.0 L982.2,854.4 L982.7,904.2 L983.1,854.4 L983.5,822.9 L983.9,860.6 L984.4,897.6 L984.8,902.6 L985.2,871.7 L985.6,850.3 L986.0,887.9 L986.5,888.7 L986.9,890.3 L987.3,811.1 L987.7,888.9 L988.2,859.0 L988.6,898.1 L989.0,876.5 L989.4,807.6 L989.8,900.0 L990.3,899.3 L990.7,897.3 L991.1,794.2 L991.5,859.0 L992.0,900.8 L992.4,898.5 L992.8,892.5 L993.2,894.7 L993.6,835.7 L994.1,883.0 L994.5,826.8 L994.9,810.6 L995.3,796.7 L995.8,817.9 L996.2,883.5 L996.6,866.0 L997.0,800.5 L997.4,869.1 L997.9,890.7 L998.3,888.0 L998.7,882.0 L999.1,890.4 L999.6,885.0 L1000.0,887.9 L1000.4,891.9 L1000.8,880.6 L1001.2,861.0 L1001.7,784.5 L1002.1,878.9 L1002.5,871.9 L1002.9,833.9 L1003.4,764.0 L1003.8,886.2 L1004.2,881.0 L1004.6,884.2 L1005.0,886.3 L1005.5,885.9 L1005.9,867.3 L1006.3,830.9 L1006.7,889.9 L1007.2,880.2 L1007.6,854.1 L1008.0,872.5 L1008.4,889.3 L1008.8,795.9 L1009.3,851.1 L1009.7,874.5 L1010.1,761.7 L1010.5,859.2 L1011.0,887.5 L1011.4,880.6 L1011.8,867.7 L1012.2,886.7 L1012.6,843.0 L1013.1,779.2 L1013.5,806.0 L1013.9,877.7 L1014.3,869.0 L1014.8,878.8 L1015.2,880.6 L1015.6,879.7 L1016.0,843.2 L1016.4,876.7 L1016.9,871.4 L1017.3,880.9 L1017.7,878.4 L1018.1,823.9 L1018.6,874.4 L1019.0,870.6 L1019.4,863.8 L1019.8,823.6 L1020.2,867.7 L1020.7,874.7 L1021.1,837.2 L1021.5,869.8 L1021.9,877.7 L1022.4,841.6 L1022.8,837.4 L1023.2,813.6 L1023.6,795.7 L1024.0,878.6 L1024.5,876.4 L1024.9,874.7 L1025.3,848.5 L1025.7,862.5 L1026.2,869.1 L1026.6,857.7 L1027.0,825.5 L1027.4,875.2 L1027.8,821.7 L1028.3,824.3 L1028.7,875.0 L1029.1,777.9 L1029.5,834.7 L1030.0,871.1 L1030.4,873.8 L1030.8,873.3 L1031.2,769.3 L1031.6,861.3 L1032.1,854.6 L1032.5,854.7 L1032.9,852.6 L1033.3,868.4 L1033.8,862.8 L1034.2,838.7 L1034.6,854.2 L1035.0,870.7 L1035.4,869.8 L1035.9,843.4 L1036.3,830.1 L1036.7,843.8 L1037.1,836.2 L1037.6,868.2 L1038.0,858.4 L1038.4,836.8 L1038.8,859.8 L1039.2,863.5 L1039.7,777.8 L1040.1,864.3 L1040.5,839.0 L1040.9,866.4 L1041.4,858.8 L1041.8,853.7 L1042.2,846.2 L1042.6,791.5 L1043.0,838.8 L1043.5,864.2 L1043.9,863.7 L1044.3,856.5 L1044.7,835.5 L1045.2,826.8 L1045.6,849.6 L1046.0,859.5 L1046.4,856.3 L1046.8,852.0 L1047.3,848.1 L1047.7,859.5 L1048.1,835.7 L1048.5,776.2 L1049.0,856.4 L1049.4,850.7 L1049.8,841.3 L1050.2,833.2 L1050.6,831.8 L1051.1,812.0 L1051.5,840.4 L1051.9,793.7 L1052.3,844.4 L1052.8,846.6 L1053.2,855.1 L1053.6,817.3 L1054.0,856.5 L1054.4,840.8 L1054.9,853.8 L1055.3,802.8 L1055.7,807.2 L1056.1,821.3 L1056.6,847.7 L1057.0,853.8 L1057.4,852.3 L1057.8,769.7 L1058.2,833.8 L1058.7,820.9 L1059.1,835.2 L1059.5,852.2 L1059.9,844.2 L1060.4,764.7 L1060.8,746.4 L1061.2,848.6 L1061.6,830.5 L1062.0,764.0 L1062.5,847.5 L1062.9,837.1 L1063.3,831.2 L1063.7,728.5 L1064.2,791.3 L1064.6,807.0 L1065.0,849.4 L1065.4,838.5 L1065.8,758.0 L1066.3,782.8 L1066.7,821.3 L1067.1,830.9 L1067.5,836.2 L1068.0,843.8 L1068.4,729.3 L1068.8,800.2 L1069.2,800.3 L1069.6,813.5 L1070.1,837.9 L1070.5,842.8 L1070.9,845.8 L1071.3,821.1 L1071.8,829.4 L1072.2,829.0 L1072.6,842.8 L1073.0,842.3 L1073.4,825.6 L1073.9,790.3 L1074.3,794.3 L1074.7,784.0 L1075.1,831.7 L1075.6,794.3 L1076.0,817.6 L1076.4,842.0 L1076.8,828.5 L1077.2,817.5 L1077.7,779.7 L1078.1,840.1 L1078.5,787.1 L1078.9,834.2 L1079.4,820.8 L1079.8,804.4 L1080.2,837.0 L1080.6,833.9 L1081.0,821.6 L1081.5,836.7 L1081.9,828.4 L1082.3,763.1 L1082.7,786.6 L1083.2,833.1 L1083.6,803.0 L1084.0,796.2 L1084.4,828.3 L1084.8,760.4 L1085.3,767.3 L1085.7,810.6 L1086.1,833.9 L1086.5,791.6 L1087.0,786.6 L1087.4,781.8 L1087.8,769.7 L1088.2,781.4 L1088.6,778.3 L1089.1,821.4 L1089.5,747.7 L1089.9,813.5 L1090.3,780.1 L1090.8,827.2 L1091.2,786.2 L1091.6,772.8 L1092.0,823.8 L1092.4,756.8 L1092.9,815.2 L1093.3,822.5 L1093.7,753.2 L1094.1,814.9 L1094.6,728.9 L1095.0,761.4 L1095.4,828.7 L1095.8,821.6 L1096.2,809.3 L1096.7,820.8 L1097.1,768.9 L1097.5,769.7 L1097.9,822.9 L1098.4,803.5 L1098.8,816.6 L1099.2,753.5 L1099.6,815.5 L1100.0,821.5 L1100.5,778.9 L1100.9,800.1 L1101.3,779.6 L1101.7,824.2 L1102.2,805.4 L1102.6,786.0 L1103.0,774.6 L1103.4,801.2 L1103.8,784.9 L1104.3,805.4 L1104.7,815.3 L1105.1,821.7 L1105.5,763.7 L1106.0,721.7 L1106.4,807.5 L1106.8,798.4 L1107.2,744.2 L1107.6,819.8 L1108.1,811.3 L1108.5,814.0 L1108.9,778.5 L1109.3,814.8 L1109.8,813.7 L1110.2,817.2 L1110.6,798.7 L1111.0,816.6 L1111.4,810.0 L1111.9,780.7 L1112.3,795.7 L1112.7,814.0 L1113.1,811.6 L1113.6,803.2 L1114.0,797.2 L1114.4,813.7 L1114.8,815.2 L1115.2,757.3 L1115.7,812.4 L1116.1,779.8 L1116.5,708.1 L1116.9,813.1 L1117.4,798.5 L1117.8,764.4 L1118.2,804.7 L1118.6,792.5 L1119.0,789.0 L1119.5,800.6 L1119.9,809.5 L1120.3,795.4 L1120.7,796.1 L1121.2,785.9 L1121.6,722.1 L1122.0,736.4 L1122.4,760.8 L1122.8,705.8 L1123.3,796.8 L1123.7,777.3 L1124.1,808.8 L1124.5,807.0 L1125.0,801.3 L1125.4,806.5 L1125.8,801.8 L1126.2,685.2 L1126.6,787.3 L1127.1,796.9 L1127.5,742.6 L1127.9,799.2 L1128.3,800.1 L1128.8,778.8 L1129.2,786.0 L1129.6,787.4 L1130.0,724.9 L1130.5,803.7 L1130.9,777.3 L1131.3,713.0 L1131.7,769.4 L1132.1,800.7 L1132.6,767.7 L1133.0,783.8 L1133.4,769.6 L1133.8,795.2 L1134.3,780.4 L1134.7,800.4 L1135.1,793.0 L1135.5,764.8 L1135.9,785.5 L1136.4,786.3 L1136.8,799.2 L1137.2,793.3 L1137.6,762.5 L1138.1,791.7 L1138.5,796.6 L1138.9,758.2 L1139.3,786.9 L1139.7,761.0 L1140.2,795.2 L1140.6,724.1 L1141.0,749.1 L1141.4,789.2 L1141.9,739.0 L1142.3,791.7 L1142.7,771.5 L1143.1,793.8 L1143.5,732.8 L1144.0,757.5 L1144.4,793.6 L1144.8,790.5 L1145.2,772.5 L1145.7,733.9 L1146.1,734.5 L1146.5,748.9 L1146.9,774.6 L1147.3,739.5 L1147.8,782.2 L1148.2,740.9 L1148.6,759.0 L1149.0,791.1 L1149.5,776.2 L1149.9,783.2 L1150.3,785.0 L1150.7,761.2 L1151.1,721.1 L1151.6,774.2 L1152.0,708.0 L1152.4,782.7 L1152.8,787.5 L1153.3,732.0 L1153.7,714.7 L1154.1,772.5 L1154.5,774.0 L1154.9,737.1 L1155.4,779.9 L1155.8,747.5 L1156.2,722.7 L1156.6,777.1 L1157.1,702.5 L1157.5,736.0 L1157.9,752.8 L1158.3,774.4 L1158.7,763.5 L1159.2,783.9 L1159.6,735.0 L1160.0,757.9 L1160.4,775.8 L1160.9,759.4 L1161.3,774.4 L1161.7,770.1 L1162.1,732.3 L1162.5,738.5 L1163.0,781.5 L1163.4,749.7 L1163.8,690.2 L1164.2,691.8 L1164.7,770.5 L1165.1,713.0 L1165.5,778.5 L1165.9,663.6 L1166.3,745.8 L1166.8,770.0 L1167.2,773.2 L1167.6,765.6 L1168.0,737.4 L1168.5,775.8 L1168.9,758.6 L1169.3,731.2 L1169.7,735.4 L1170.1,758.3 L1170.6,776.0 L1171.0,758.2 L1171.4,769.8 L1171.8,750.0 L1172.3,748.0 L1172.7,749.2 L1173.1,751.0 L1173.5,763.3 L1173.9,771.8 L1174.4,772.1 L1174.8,761.1 L1175.2,757.0 L1175.6,765.2 L1176.1,704.9 L1176.5,733.3 L1176.9,768.0 L1177.3,748.6 L1177.7,737.4 L1178.2,671.6 L1178.6,765.9 L1179.0,738.6 L1179.4,752.2 L1179.9,664.0 L1180.3,729.9 L1180.7,755.8 L1181.1,736.3 L1181.5,765.7 L1182.0,711.5 L1182.4,723.2 L1182.8,721.3 L1183.2,766.0 L1183.7,686.2 L1184.1,661.6 L1184.5,763.3 L1184.9,678.9 L1185.3,763.6 L1185.8,763.6 L1186.2,733.8 L1186.6,739.0 L1187.0,764.4 L1187.5,740.0 L1187.9,740.3 L1188.3,741.2 L1188.7,763.3 L1189.1,759.5 L1189.6,759.6 L1190.0,738.7 L1190.4,738.0 L1190.8,737.6 L1191.3,760.9 L1191.7,751.6 L1192.1,746.7 L1192.5,760.9 L1192.9,709.6 L1193.4,750.6 L1193.8,754.6 L1194.2,751.2 L1194.6,759.3 L1195.1,754.9 L1195.5,728.4 L1195.9,654.8 L1196.3,751.9 L1196.7,678.6 L1197.2,755.9 L1197.6,729.7 L1198.0,698.5 L1198.4,723.5 L1198.9,737.0 L1199.3,654.3 L1199.7,751.4 L1200.1,748.9 L1200.5,702.6 L1201.0,737.4 L1201.4,726.9 L1201.8,753.3 L1202.2,687.2 L1202.7,754.0 L1203.1,730.7 L1203.5,753.0 L1203.9,736.6 L1204.3,747.0 L1204.8,734.9 L1205.2,742.4 L1205.6,741.9 L1206.0,750.0 L1206.5,716.7 L1206.9,745.5 L1207.3,740.2 L1207.7,727.9 L1208.1,745.5 L1208.6,743.9 L1209.0,743.4 L1209.4,747.9 L1209.8,746.0 L1210.3,738.5 L1210.7,635.2 L1211.1,712.9 L1211.5,747.6 L1211.9,740.4 L1212.4,738.2 L1212.8,725.0 L1213.2,707.9 L1213.6,690.3 L1214.1,710.1 L1214.5,717.8 L1214.9,679.4 L1215.3,731.1 L1215.7,693.1 L1216.2,710.0 L1216.6,726.7 L1217.0,624.9 L1217.4,722.8 L1217.9,663.1 L1218.3,729.8 L1218.7,737.7 L1219.1,722.5 L1219.5,739.1 L1220.0,713.5 L1220.4,724.3 L1220.8,738.8 L1221.2,732.3 L1221.7,702.6 L1222.1,740.1 L1222.5,682.4 L1222.9,729.9 L1223.3,728.0 L1223.8,690.4 L1224.2,737.5 L1224.6,665.9 L1225.0,628.1 L1225.5,722.5 L1225.9,717.9 L1226.3,675.8 L1226.7,645.1 L1227.1,723.0 L1227.6,716.0 L1228.0,735.2 L1228.4,633.6 L1228.8,687.6 L1229.3,733.8 L1229.7,714.6 L1230.1,725.1 L1230.5,719.5 L1230.9,661.6 L1231.4,724.8 L1231.8,732.9 L1232.2,719.8 L1232.6,710.9 L1233.1,722.6 L1233.5,729.7 L1233.9,661.4 L1234.3,729.6 L1234.7,728.3 L1235.2,723.3 L1235.6,691.1 L1236.0,722.2 L1236.4,711.2 L1236.9,722.0 L1237.3,726.1 L1237.7,724.1 L1238.1,697.2 L1238.5,721.8 L1239.0,703.0 L1239.4,718.9 L1239.8,725.9 L1240.2,726.7 L1240.7,717.7 L1241.1,710.5 L1241.5,722.3 L1241.9,634.8 L1242.3,705.8 L1242.8,675.8 L1243.2,717.3 L1243.6,688.6 L1244.0,721.5 L1244.5,723.7 L1244.9,695.1 L1245.3,693.1 L1245.7,714.5 L1246.1,648.2 L1246.6,715.6 L1247.0,717.3 L1247.4,684.3 L1247.8,691.9 L1248.3,673.0 L1248.7,710.0 L1249.1,709.1 L1249.5,718.7 L1249.9,710.5 L1250.4,675.7 L1250.8,718.9 L1251.2,718.3 L1251.6,701.9 L1252.1,707.8 L1252.5,698.5 L1252.9,702.5 L1253.3,694.3 L1253.7,681.1 L1254.2,715.4 L1254.6,699.0 L1255.0,713.0 L1255.4,685.0 L1255.9,714.7 L1256.3,699.8 L1256.7,709.2 L1257.1,623.8 L1257.5,689.6 L1258.0,712.9 L1258.4,604.3 L1258.8,707.2 L1259.2,680.0 L1259.7,703.8 L1260.1,624.3 L1260.5,691.2 L1260.9,704.9 L1261.3,690.9 L1261.8,700.9 L1262.2,625.1 L1262.6,704.6 L1263.0,699.8 L1263.5,688.7 L1263.9,700.6 L1264.3,699.0 L1264.7,607.4 L1265.1,708.1 L1265.6,684.4 L1266.0,701.2 L1266.4,706.4 L1266.8,701.9 L1267.3,708.0 L1267.7,669.9 L1268.1,695.5 L1268.5,690.0 L1268.9,671.6 L1269.4,683.4 L1269.8,702.4 L1270.2,688.6 L1270.6,690.7 L1271.1,706.2 L1271.5,698.7 L1271.9,701.9 L1272.3,696.8 L1272.7,642.7 L1273.2,683.7 L1273.6,695.0 L1274.0,685.3 L1274.4,703.6 L1274.9,669.9 L1275.3,647.3 L1275.7,602.4 L1276.1,696.9 L1276.5,695.0 L1277.0,620.0 L1277.4,701.8 L1277.8,604.0 L1278.2,650.4 L1278.7,695.7 L1279.1,694.2 L1279.5,663.4 L1279.9,699.7 L1280.3,699.6 L1280.8,682.1 L1281.2,680.6 L1281.6,690.3 L1282.0,694.8 L1282.5,603.5 L1282.9,697.9 L1283.3,695.4 L1283.7,683.8 L1284.1,686.1 L1284.6,630.4 L1285.0,675.9 L1285.4,676.1 L1285.8,669.0 L1286.3,676.5 L1286.7,690.6 L1287.1,664.9 L1287.5,661.6 L1287.9,668.2 L1288.4,578.6 L1288.8,578.4 L1289.2,690.2 L1289.6,655.1 L1290.1,642.6 L1290.5,683.4 L1290.9,646.9 L1291.3,673.0 L1291.7,687.0 L1292.2,672.9 L1292.6,602.7 L1293.0,675.7 L1293.4,678.5 L1293.9,668.4 L1294.3,688.9 L1294.7,676.0 L1295.1,670.4 L1295.5,648.8 L1296.0,688.1 L1296.4,612.7 L1296.8,620.0 L1297.2,688.1 L1297.7,673.3 L1298.1,582.6 L1298.5,683.3 L1298.9,593.0 L1299.3,672.2 L1299.8,679.0 L1300.2,627.1 L1300.6,629.8 L1301.0,682.0 L1301.5,575.6 L1301.9,618.9 L1302.3,672.7 L1302.7,673.3 L1303.2,654.1 L1303.6,619.1 L1304.0,650.1 L1304.4,681.0 L1304.8,662.0 L1305.3,645.2 L1305.7,668.7 L1306.1,666.8 L1306.5,678.0 L1307.0,656.9 L1307.4,678.2 L1307.8,677.1 L1308.2,597.6 L1308.6,650.2 L1309.1,617.9 L1309.5,590.9 L1309.9,595.5 L1310.3,672.1 L1310.8,631.7 L1311.2,636.8 L1311.6,675.9 L1312.0,666.4 L1312.4,660.4 L1312.9,669.5 L1313.3,631.6 L1313.7,622.0 L1314.1,633.4 L1314.6,632.2 L1315.0,673.8 L1315.4,604.3 L1315.8,583.6 L1316.2,613.4 L1316.7,637.9 L1317.1,667.5 L1317.5,652.5 L1317.9,633.6 L1318.4,662.9 L1318.8,670.8 L1319.2,654.0 L1319.6,642.8 L1320.0,644.7 L1320.5,588.0 L1320.9,650.9 L1321.3,667.6 L1321.7,671.0 L1322.2,658.0 L1322.6,667.9 L1323.0,660.7 L1323.4,664.2 L1323.8,651.6 L1324.3,657.0 L1324.7,665.8 L1325.1,573.2 L1325.5,666.5 L1326.0,653.0 L1326.4,667.0 L1326.8,648.5 L1327.2,561.6 L1327.6,664.7 L1328.1,642.5 L1328.5,655.5 L1328.9,652.9 L1329.3,587.6 L1329.8,643.5 L1330.2,663.0 L1330.6,654.2 L1331.0,662.0 L1331.4,660.2 L1331.9,614.2 L1332.3,642.7 L1332.7,629.7 L1333.1,657.8 L1333.6,598.0 L1334.0,650.5 L1334.4,646.4 L1334.8,571.2 L1335.2,634.1 L1335.7,649.2 L1336.1,660.9 L1336.5,640.8 L1336.9,634.8 L1337.4,583.1 L1337.8,604.0 L1338.2,631.3 L1338.6,644.2 L1339.0,613.8 L1339.5,656.7 L1339.9,644.3 L1340.3,657.1 L1340.7,611.2 L1341.2,595.9 L1341.6,619.5 L1342.0,594.5 L1342.4,648.3 L1342.8,655.8 L1343.3,645.2 L1343.7,653.2 L1344.1,654.7 L1344.5,636.3 L1345.0,611.2 L1345.4,639.7 L1345.8,645.6 L1346.2,630.8 L1346.6,619.6 L1347.1,644.5 L1347.5,632.0 L1347.9,589.5 L1348.3,634.7 L1348.8,621.8 L1349.2,650.1 L1349.6,631.7 L1350.0,649.0 L1350.4,601.1 L1350.9,621.9 L1351.3,637.0 L1351.7,633.3 L1352.1,558.8 L1352.6,621.3 L1353.0,640.9 L1353.4,637.9 L1353.8,638.8 L1354.2,648.3 L1354.7,647.6 L1355.1,640.2 L1355.5,632.4 L1355.9,613.1 L1356.4,631.9 L1356.8,643.6 L1357.2,627.3 L1357.6,575.9 L1358.0,645.2 L1358.5,576.5 L1358.9,630.6 L1359.3,622.3 L1359.7,630.5 L1360.2,637.8 L1360.6,638.7 L1361.0,637.0 L1361.4,643.2 L1361.8,636.0 L1362.3,593.2 L1362.7,637.2 L1363.1,639.8 L1363.5,638.3 L1364.0,614.9 L1364.4,640.2 L1364.8,605.8 L1365.2,615.0 L1365.6,623.3 L1366.1,542.8 L1366.5,624.1 L1366.9,634.0 L1367.3,627.0 L1367.8,567.5 L1368.2,557.3 L1368.6,588.5 L1369.0,629.5 L1369.4,637.3 L1369.9,633.4 L1370.3,636.1 L1370.7,628.9 L1371.1,634.7 L1371.6,602.6 L1372.0,600.5 L1372.4,607.3 L1372.8,613.8 L1373.2,634.7 L1373.7,603.3 L1374.1,526.5 L1374.5,530.7 L1374.9,549.9 L1375.4,588.0 L1375.8,625.5 L1376.2,622.9 L1376.6,572.2 L1377.0,614.2 L1377.5,591.0 L1377.9,623.1 L1378.3,627.7 L1378.7,586.4 L1379.2,588.3 L1379.6,626.4 L1380.0,624.9 L1380.4,609.5 L1380.8,626.3 L1381.3,628.5 L1381.7,573.2 L1382.1,614.2 L1382.5,614.4 L1383.0,566.3 L1383.4,584.4 L1383.8,579.8 L1384.2,603.2 L1384.6,625.2 L1385.1,549.9 L1385.5,569.8 L1385.9,625.4 L1386.3,561.8 L1386.8,603.6 L1387.2,590.9 L1387.6,623.1 L1388.0,618.3 L1388.4,595.8 L1388.9,613.1 L1389.3,604.8 L1389.7,620.8 L1390.1,605.2 L1390.6,619.5 L1391.0,558.2 L1391.4,527.8 L1391.8,596.5 L1392.2,609.1 L1392.7,616.2 L1393.1,619.9 L1393.5,541.1 L1393.9,590.5 L1394.4,617.7 L1394.8,606.6 L1395.2,601.7 L1395.6,619.1 L1396.0,560.9 L1396.5,614.8 L1396.9,575.2 L1397.3,618.2 L1397.7,617.9 L1398.2,608.9 L1398.6,557.9 L1399.0,581.5 L1399.4,524.9 L1399.8,563.0 L1400.3,602.7 L1400.7,606.4 L1401.1,570.9 L1401.5,615.1 L1402.0,588.1 L1402.4,614.1 L1402.8,562.1 L1403.2,584.4 L1403.6,508.9 L1404.1,597.5 L1404.5,589.7 L1404.9,573.0 L1405.3,612.6 L1405.8,606.7 L1406.2,585.6 L1406.6,593.0 L1407.0,609.7 L1407.4,584.2 L1407.9,606.3 L1408.3,594.4 L1408.7,594.8 L1409.1,601.1 L1409.6,526.5 L1410.0,604.3 L1410.4,545.2 L1410.8,602.3 L1411.2,595.3 L1411.7,608.2 L1412.1,607.2 L1412.5,548.4 L1412.9,597.3 L1413.4,600.1 L1413.8,591.8 L1414.2,596.2 L1414.6,599.8 L1415.0,575.5 L1415.5,583.4 L1415.9,574.2 L1416.3,592.6 L1416.7,604.0 L1417.2,547.1 L1417.6,600.2 L1418.0,586.9 L1418.4,590.8 L1418.8,603.0 L1419.3,568.2 L1419.7,504.1 L1420.1,574.9 L1420.5,600.1 L1421.0,596.7 L1421.4,597.4 L1421.8,593.0 L1422.2,595.3 L1422.6,565.9 L1423.1,599.3 L1423.5,594.9 L1423.9,556.4 L1424.3,567.6 L1424.8,588.8 L1425.2,537.1 L1425.6,566.6 L1426.0,517.9 L1426.4,596.2 L1426.9,597.6 L1427.3,587.1 L1427.7,565.3 L1428.1,518.1 L1428.6,537.5 L1429.0,589.9 L1429.4,595.1 L1429.8,589.3 L1430.2,594.6 L1430.7,589.6 L1431.1,568.1 L1431.5,591.2 L1431.9,567.6 L1432.4,584.1 L1432.8,582.4 L1433.2,586.9 L1433.6,567.6 L1434.0,548.6 L1434.5,581.2 L1434.9,586.1 L1435.3,590.8 L1435.7,554.8 L1436.2,560.4 L1436.6,590.6 L1437.0,585.8 L1437.4,582.8 L1437.8,582.4 L1438.3,585.9 L1438.7,548.5 L1439.1,577.5 L1439.5,559.5 L1440.0,540.5 L1440.4,583.8 L1440.8,586.6 L1441.2,498.7 L1441.6,558.9 L1442.1,537.6 L1442.5,543.5 L1442.9,584.2 L1443.3,515.8 L1443.8,577.7 L1444.2,559.7 L1444.6,574.7 L1445.0,583.0 L1445.4,561.7 L1445.9,580.3 L1446.3,571.6 L1446.7,576.5 L1447.1,578.5 L1447.6,582.3 L1448.0,569.6 L1448.4,564.6 L1448.8,497.2 L1449.2,576.5 L1449.7,529.9 L1450.1,566.6 L1450.5,544.5 L1450.9,580.8 L1451.4,578.0 L1451.8,572.9 L1452.2,564.3 L1452.6,578.2 L1453.0,510.9 L1453.5,548.3 L1453.9,549.1 L1454.3,536.1 L1454.7,575.9 L1455.2,573.2 L1455.6,573.3 L1456.0,558.8 L1456.4,494.0 L1456.8,525.7 L1457.3,574.8 L1457.7,527.7 L1458.1,492.2 L1458.5,564.8 L1459.0,573.5 L1459.4,572.9 L1459.8,565.3 L1460.2,549.6 L1460.6,570.4 L1461.1,568.1 L1461.5,477.8 L1461.9,568.2 L1462.3,560.1 L1462.8,564.5 L1463.2,552.3 L1463.6,564.3 L1464.0,559.4 L1464.4,556.1 L1464.9,569.8 L1465.3,568.9 L1465.7,533.3 L1466.1,566.6 L1466.6,569.9 L1467.0,560.0 L1467.4,497.4 L1467.8,545.6 L1468.2,554.0 L1468.7,552.6 L1469.1,565.1 L1469.5,521.8 L1469.9,559.5 L1470.4,551.7 L1470.8,533.4 L1471.2,536.9 L1471.6,547.7 L1472.1,540.9 L1472.5,547.7 L1472.9,510.3 L1473.3,488.2 L1473.7,541.1 L1474.2,564.0 L1474.6,555.7 L1475.0,563.8 L1475.4,542.2 L1475.9,499.3 L1476.3,492.8 L1476.7,548.6 L1477.1,543.3 L1477.5,560.5 L1478.0,545.5 L1478.4,552.4 L1478.8,464.3 L1479.2,550.9 L1479.7,513.3 L1480.1,540.0 L1480.5,554.9 L1480.9,559.2 L1481.3,559.0 L1481.8,540.7 L1482.2,551.3 L1482.6,514.0 L1483.0,510.3 L1483.5,521.3 L1483.9,485.8 L1484.3,513.6 L1484.7,453.8 L1485.1,556.2 L1485.6,542.4 L1486.0,542.9 L1486.4,548.2 L1486.8,507.6 L1487.3,553.0 L1487.7,543.3 L1488.1,535.0 L1488.5,467.8 L1488.9,503.3 L1489.4,490.3 L1489.8,482.4 L1490.2,517.8 L1490.6,526.1 L1491.1,538.0 L1491.5,551.0 L1491.9,535.5 L1492.3,535.2 L1492.7,525.4 L1493.2,486.4 L1493.6,529.9 L1494.0,543.5 L1494.4,516.0 L1494.9,539.2 L1495.3,549.8 L1495.7,547.8 L1496.1,545.9 L1496.5,513.8 L1497.0,488.7 L1497.4,540.7 L1497.8,547.4 L1498.2,522.1 L1498.7,504.3 L1499.1,546.1 L1499.5,542.1 L1499.9,526.8 L1500.3,532.2 L1500.8,519.1 L1501.2,541.5 L1501.6,504.5 L1502.0,544.8 L1502.5,482.4 L1502.9,515.3 L1503.3,500.3 L1503.7,506.3 L1504.1,531.6 L1504.6,499.7 L1505.0,531.2 L1505.4,479.6 L1505.8,540.4 L1506.3,446.2 L1506.7,527.7 L1507.1,485.5 L1507.5,527.0 L1507.9,534.6 L1508.4,508.8 L1508.8,504.3 L1509.2,486.2 L1509.6,508.0 L1510.1,494.6 L1510.5,510.6 L1510.9,538.8 L1511.3,528.2 L1511.7,533.1 L1512.2,500.4 L1512.6,521.2 L1513.0,491.7 L1513.4,526.3 L1513.9,500.6 L1514.3,534.9 L1514.7,527.2 L1515.1,529.1 L1515.5,508.1 L1516.0,498.4 L1516.4,522.4 L1516.8,484.3 L1517.2,522.4 L1517.7,532.0 L1518.1,512.4 L1518.5,527.3 L1518.9,522.7 L1519.3,532.8 L1519.8,512.6 L1520.2,529.4 L1520.6,522.6 L1521.0,527.9 L1521.5,512.7 L1521.9,521.2 L1522.3,526.2 L1522.7,523.7 L1523.1,523.7 L1523.6,523.9 L1524.0,528.7 L1524.4,488.4 L1524.8,525.5 L1525.3,424.4 L1525.7,495.3 L1526.1,522.7 L1526.5,524.8 L1526.9,505.2 L1527.4,526.0 L1527.8,522.1 L1528.2,520.9 L1528.6,481.2 L1529.1,523.0 L1529.5,525.8 L1529.9,511.7 L1530.3,507.9 L1530.7,493.5 L1531.2,520.4 L1531.6,511.2 L1532.0,523.1 L1532.4,488.4 L1532.9,520.9 L1533.3,503.4 L1533.7,435.5 L1534.1,492.5 L1534.5,450.5 L1535.0,496.0 L1535.4,507.0 L1535.8,519.2 L1536.2,521.3 L1536.7,515.0 L1537.1,495.1 L1537.5,478.1 L1537.9,517.9 L1538.3,513.7 L1538.8,516.2 L1539.2,498.1 L1539.6,509.4 L1540.0,512.5 L1540.5,455.6 L1540.9,512.6 L1541.3,453.5 L1541.7,516.9 L1542.1,433.6 L1542.6,500.7 L1543.0,512.9 L1543.4,515.5 L1543.8,494.7 L1544.3,514.4 L1544.7,500.0 L1545.1,503.4 L1545.5,512.7 L1545.9,478.4 L1546.4,444.2 L1546.8,510.5 L1547.2,463.3 L1547.6,512.7 L1548.1,491.8 L1548.5,509.1 L1548.9,511.6 L1549.3,487.3 L1549.7,504.5 L1550.2,503.1 L1550.6,498.7 L1551.0,487.9 L1551.4,506.5 L1551.9,505.9 L1552.3,475.3 L1552.7,426.7 L1553.1,498.5 L1553.5,507.7 L1554.0,508.8 L1554.4,505.0 L1554.8,494.9 L1555.2,507.3 L1555.7,507.1 L1556.1,443.5 L1556.5,433.9 L1556.9,499.9 L1557.3,444.7 L1557.8,482.8 L1558.2,499.1 L1558.6,504.5 L1559.0,452.6 L1559.5,489.4 L1559.9,504.3 L1560.3,481.4 L1560.7,451.0 L1561.1,488.8 L1561.6,402.8 L1562.0,482.0 L1562.4,466.8 L1562.8,496.3 L1563.3,454.4 L1563.7,475.8 L1564.1,477.2 L1564.5,498.2 L1564.9,484.4 L1565.4,469.6 L1565.8,471.7 L1566.2,499.4 L1566.6,487.7 L1567.1,493.7 L1567.5,482.9 L1567.9,497.7 L1568.3,434.0 L1568.7,490.5 L1569.2,489.6 L1569.6,494.3 L1570.0,450.9 L1570.4,494.3 L1570.9,460.6 L1571.3,416.8 L1571.7,483.8 L1572.1,454.2 L1572.5,484.9 L1573.0,474.8 L1573.4,462.9 L1573.8,483.0 L1574.2,469.9 L1574.7,402.8 L1575.1,467.4 L1575.5,473.3 L1575.9,460.4 L1576.3,482.0 L1576.8,436.6 L1577.2,451.9 L1577.6,488.0 L1578.0,483.1 L1578.5,442.6 L1578.9,454.1 L1579.3,477.0 L1579.7,448.3 L1580.1,464.8 L1580.6,470.2 L1581.0,486.8 L1581.4,452.9 L1581.8,473.4 L1582.3,464.9 L1582.7,486.8 L1583.1,442.0 L1583.5,459.9 L1583.9,434.6 L1584.4,473.0 L1584.8,460.7 L1585.2,471.0 L1585.6,471.0 L1586.1,485.8 L1586.5,392.3 L1586.9,483.9 L1587.3,428.8 L1587.7,484.4 L1588.2,483.8 L1588.6,474.7 L1589.0,457.6 L1589.4,475.4 L1589.9,470.6 L1590.3,474.1 L1590.7,462.2 L1591.1,482.1 L1591.5,473.8 L1592.0,465.1 L1592.4,462.3 L1592.8,421.5 L1593.2,452.8 L1593.7,476.6 L1594.1,464.7 L1594.5,458.1 L1594.9,377.1 L1595.3,473.6 L1595.8,470.5 L1596.2,478.7 L1596.6,478.3 L1597.0,468.3 L1597.5,458.6 L1597.9,458.5 L1598.3,474.5 L1598.7,463.4 L1599.1,467.1 L1599.6,425.6 L1600.0,468.4 L1600.4,440.0 L1600.8,473.0 L1601.3,452.0 L1601.7,473.2 L1602.1,466.6 L1602.5,464.1 L1602.9,463.0 L1603.4,470.7 L1603.8,469.0 L1604.2,466.2 L1604.6,470.9 L1605.1,460.9 L1605.5,443.9 L1605.9,472.7 L1606.3,471.4 L1606.7,462.2 L1607.2,451.9 L1607.6,465.4 L1608.0,471.2 L1608.4,440.5 L1608.9,443.0 L1609.3,385.4 L1609.7,465.4 L1610.1,469.5 L1610.5,464.3 L1611.0,458.7 L1611.4,439.6 L1611.8,467.8 L1612.2,466.5 L1612.7,441.9 L1613.1,453.9 L1613.5,460.5 L1613.9,461.2 L1614.3,375.4 L1614.8,431.3 L1615.2,454.3 L1615.6,445.6 L1616.0,403.8 L1616.5,444.4 L1616.9,465.0 L1617.3,375.2 L1617.7,462.4 L1618.1,462.6 L1618.6,462.1 L1619.0,449.3 L1619.4,461.6 L1619.8,449.9 L1620.3,459.8 L1620.7,456.5 L1621.1,452.0 L1621.5,453.0 L1621.9,448.6 L1622.4,459.5 L1622.8,446.6 L1623.2,449.2 L1623.6,408.2 L1624.1,387.1 L1624.5,432.8 L1624.9,412.3 L1625.3,456.2 L1625.7,456.1 L1626.2,435.1 L1626.6,434.6 L1627.0,413.3 L1627.4,448.1 L1627.9,446.7 L1628.3,422.8 L1628.7,443.8 L1629.1,447.9 L1629.5,421.1 L1630.0,449.0 L1630.4,445.8 L1630.8,450.6 L1631.2,443.4 L1631.7,427.5 L1632.1,390.8 L1632.5,442.7 L1632.9,451.4 L1633.3,445.9 L1633.8,451.6 L1634.2,443.8 L1634.6,359.3 L1635.0,428.7 L1635.5,364.1 L1635.9,445.7 L1636.3,420.4 L1636.7,405.3 L1637.2,443.6 L1637.6,442.8 L1638.0,417.1 L1638.4,375.4 L1638.8,413.5 L1639.3,403.9 L1639.7,449.1 L1640.1,444.0 L1640.5,443.8 L1641.0,428.9 L1641.4,429.6 L1641.8,369.5 L1642.2,436.8 L1642.6,403.1 L1643.1,440.2 L1643.5,437.0 L1643.9,441.7 L1644.3,441.1 L1644.8,416.0 L1645.2,419.3 L1645.6,431.0 L1646.0,440.6 L1646.4,437.2 L1646.9,442.8 L1647.3,432.7 L1647.7,440.1 L1648.1,430.0 L1648.6,441.9 L1649.0,373.1 L1649.4,426.1 L1649.8,442.0 L1650.2,421.4 L1650.7,432.6 L1651.1,352.8 L1651.5,429.8 L1651.9,434.6 L1652.4,425.0 L1652.8,437.6 L1653.2,424.8 L1653.6,410.9 L1654.0,432.1 L1654.5,384.2 L1654.9,415.9 L1655.3,436.0 L1655.7,416.5 L1656.2,379.1 L1656.6,433.0 L1657.0,426.2 L1657.4,389.8 L1657.8,433.4 L1658.3,358.3 L1658.7,395.4 L1659.1,425.3 L1659.5,419.2 L1660.0,424.7 L1660.4,433.1 L1660.8,415.2 L1661.2,433.4 L1661.6,417.4 L1662.1,380.9 L1662.5,421.3 L1662.9,389.7 L1663.3,343.4 L1663.8,361.2 L1664.2,431.3 L1664.6,386.7 L1665.0,367.1 L1665.4,424.0 L1665.9,377.9 L1666.3,416.5 L1666.7,360.7 L1667.1,420.6 L1667.6,408.2 L1668.0,358.7 L1668.4,381.5 L1668.8,367.6 L1669.2,397.2 L1669.7,396.8 L1670.1,377.0 L1670.5,427.6 L1670.9,422.3 L1671.4,382.0 L1671.8,426.1 L1672.2,401.7 L1672.6,419.9 L1673.0,383.2 L1673.5,402.0 L1673.9,363.7 L1674.3,395.7 L1674.7,381.1 L1675.2,416.1 L1675.6,417.5 L1676.0,381.1 L1676.4,337.7 L1676.8,408.1 L1677.3,406.6 L1677.7,421.2 L1678.1,405.4 L1678.5,412.1 L1679.0,407.4 L1679.4,416.9 L1679.8,370.6 L1680.2,333.6 L1680.6,418.8 L1681.1,411.3 L1681.5,382.2 L1681.9,393.3 L1682.3,416.8 L1682.8,416.9 L1683.2,387.4 L1683.6,325.8 L1684.0,317.3 L1684.4,407.6 L1684.9,416.5 L1685.3,352.4 L1685.7,392.8 L1686.1,351.2 L1686.6,416.1 L1687.0,411.6 L1687.4,359.5 L1687.8,370.5 L1688.2,408.7 L1688.7,363.9 L1689.1,413.6 L1689.5,336.5 L1689.9,335.6 L1690.4,397.3 L1690.8,413.2 L1691.2,400.7 L1691.6,362.2 L1692.0,371.6 L1692.5,402.6 L1692.9,408.3 L1693.3,411.5 L1693.7,402.3 L1694.2,392.4 L1694.6,370.9 L1695.0,388.9 L1695.4,401.6 L1695.8,364.9 L1696.3,399.5 L1696.7,390.4 L1697.1,364.0 L1697.5,401.4 L1698.0,380.0 L1698.4,358.7 L1698.8,339.4 L1699.2,402.9 L1699.6,399.9 L1700.1,391.6 L1700.5,397.5 L1700.9,403.0 L1701.3,395.0 L1701.8,403.9 L1702.2,389.1 L1702.6,402.5 L1703.0,396.0 L1703.4,385.2 L1703.9,399.3 L1704.3,354.8 L1704.7,388.7 L1705.1,336.4 L1705.6,400.6 L1706.0,390.2 L1706.4,401.3 L1706.8,394.8 L1707.2,379.2 L1707.7,396.4 L1708.1,396.7 L1708.5,399.6 L1708.9,398.6 L1709.4,390.1 L1709.8,395.6 L1710.2,383.2 L1710.6,391.5 L1711.0,378.6 L1711.5,299.1 L1711.9,368.9 L1712.3,376.6 L1712.7,386.8 L1713.2,394.3 L1713.6,393.1 L1714.0,395.5 L1714.4,389.1 L1714.8,373.3 L1715.3,394.6 L1715.7,359.8 L1716.1,391.5 L1716.5,387.7 L1717.0,358.9 L1717.4,393.9 L1717.8,381.8 L1718.2,359.8 L1718.6,387.0 L1719.1,374.3 L1719.5,381.7 L1719.9,389.4 L1720.3,378.4 L1720.8,295.4 L1721.2,331.6 L1721.6,387.8 L1722.0,351.1 L1722.4,383.3 L1722.9,319.2 L1723.3,366.6 L1723.7,373.8 L1724.1,382.6 L1724.6,373.6 L1725.0,364.4 L1725.4,348.2 L1725.8,366.8 L1726.2,359.8 L1726.7,363.6 L1727.1,365.2 L1727.5,330.6 L1727.9,320.8 L1728.4,384.8 L1728.8,360.2 L1729.2,343.6 L1729.6,386.3 L1730.0,362.9 L1730.5,352.4 L1730.9,382.9 L1731.3,329.0 L1731.7,362.9 L1732.2,347.3 L1732.6,380.2 L1733.0,371.4 L1733.4,379.0 L1733.8,381.5 L1734.3,378.8 L1734.7,381.8 L1735.1,369.3 L1735.5,337.0 L1736.0,356.4 L1736.4,367.2 L1736.8,378.3 L1737.2,377.7 L1737.6,377.5 L1738.1,359.8 L1738.5,366.4 L1738.9,365.0 L1739.3,345.0 L1739.8,349.8 L1740.2,372.7 L1740.6,330.1 L1741.0,348.5 L1741.4,368.9 L1741.9,375.9 L1742.3,363.5 L1742.7,366.4 L1743.1,353.8 L1743.6,310.2 L1744.0,322.7 L1744.4,374.9 L1744.8,348.4 L1745.2,364.7 L1745.7,337.0 L1746.1,292.9 L1746.5,361.7 L1746.9,312.4 L1747.4,352.8 L1747.8,339.0 L1748.2,361.1 L1748.6,358.1 L1749.0,359.7 L1749.5,352.6 L1749.9,351.4 L1750.3,371.9 L1750.7,368.4 L1751.2,335.0 L1751.6,370.4 L1752.0,369.2 L1752.4,310.8 L1752.8,346.9 L1753.3,357.4 L1753.7,361.6 L1754.1,270.3 L1754.5,333.8 L1755.0,311.2 L1755.4,362.3 L1755.8,343.3 L1756.2,355.2 L1756.6,317.0 L1757.1,341.2 L1757.5,357.0 L1757.9,324.2 L1758.3,327.4 L1758.8,318.4 L1759.2,338.8 L1759.6,344.0 L1760.0,353.4 L1760.4,340.9 L1760.9,314.9 L1761.3,281.6 L1761.7,356.4 L1762.1,358.9 L1762.6,348.9 L1763.0,325.5 L1763.4,334.1 L1763.8,360.4 L1764.2,314.9 L1764.7,344.4 L1765.1,356.9 L1765.5,351.3 L1765.9,359.0 L1766.4,352.3 L1766.8,328.8 L1767.2,319.4 L1767.6,354.8 L1768.0,288.2 L1768.5,344.3 L1768.9,349.8 L1769.3,340.9 L1769.7,334.3 L1770.2,358.1 L1770.6,348.1 L1771.0,328.5 L1771.4,353.8 L1771.8,343.2 L1772.3,342.2 L1772.7,307.0 L1773.1,333.4 L1773.5,346.1 L1774.0,342.3 L1774.4,314.9 L1774.8,325.7 L1775.2,350.5 L1775.6,353.9 L1776.1,334.1 L1776.5,352.4 L1776.9,331.5 L1777.3,339.4 L1777.8,327.2 L1778.2,352.5 L1778.6,352.2 L1779.0,329.1 L1779.4,350.9 L1779.9,343.8 L1780.3,340.1 L1780.7,310.6 L1781.1,300.1 L1781.6,342.0 L1782.0,341.2 L1782.4,334.4 L1782.8,345.8 L1783.2,348.5 L1783.7,347.6 L1784.1,347.3 L1784.5,343.0 L1784.9,337.2 L1785.4,327.8 L1785.8,308.7 L1786.2,336.3 L1786.6,343.3 L1787.0,303.9 L1787.5,340.4 L1787.9,331.5 L1788.3,282.5 L1788.7,280.2 L1789.2,339.4 L1789.6,344.6 L1790.0,332.4 L1790.4,332.7 L1790.8,336.3 L1791.3,338.0 L1791.7,322.5 L1792.1,342.3 L1792.5,324.5 L1793.0,325.5 L1793.4,324.5 L1793.8,320.4 L1794.2,329.9 L1794.6,338.7 L1795.1,328.9 L1795.5,339.8 L1795.9,322.2 L1796.3,298.4 L1796.8,336.5 L1797.2,277.8 L1797.6,328.2 L1798.0,289.0 L1798.4,262.7 L1798.9,268.5 L1799.3,334.3 L1799.7,334.1 L1800.1,313.8 L1800.6,306.5 L1801.0,323.5 L1801.4,333.6 L1801.8,324.7 L1802.2,305.1 L1802.7,321.6 L1803.1,334.8 L1803.5,248.8 L1803.9,319.7 L1804.4,303.1 L1804.8,333.6 L1805.2,325.1 L1805.6,305.2 L1806.0,317.4 L1806.5,320.3 L1806.9,332.1 L1807.3,329.9 L1807.7,303.7 L1808.2,317.1 L1808.6,328.9 L1809.0,316.6 L1809.4,310.2 L1809.9,327.7 L1810.3,315.6 L1810.7,297.2 L1811.1,327.6 L1811.5,321.4 L1812.0,241.4 L1812.4,327.6 L1812.8,307.6 L1813.2,299.4 L1813.7,314.8 L1814.1,253.5 L1814.5,324.0 L1814.9,314.2 L1815.3,260.7 L1815.8,294.6 L1816.2,304.6 L1816.6,311.3 L1817.0,298.8 L1817.5,325.1 L1817.9,317.5 L1818.3,324.1 L1818.7,317.0 L1819.1,314.0 L1819.6,318.0 L1820.0,235.7 L1820.4,291.6 L1820.8,320.7 L1821.3,296.6 L1821.7,299.4 L1822.1,316.6 L1822.5,307.7 L1822.9,251.0 L1823.4,280.8 L1823.8,284.6 L1824.2,224.3 L1824.6,318.6 L1825.1,280.1 L1825.5,272.9 L1825.9,311.2 L1826.3,289.3 L1826.7,291.8 L1827.2,313.5 L1827.6,291.5 L1828.0,287.0 L1828.4,301.9 L1828.9,302.1 L1829.3,301.1 L1829.7,293.5 L1830.1,263.3 L1830.5,314.3 L1831.0,313.9 L1831.4,310.3 L1831.8,301.6 L1832.2,301.5 L1832.7,314.0 L1833.1,305.6 L1833.5,299.3 L1833.9,312.9 L1834.3,284.6 L1834.8,292.9 L1835.2,270.9 L1835.6,294.3 L1836.0,270.7 L1836.5,310.7 L1836.9,300.0 L1837.3,276.1 L1837.7,304.9 L1838.1,247.1 L1838.6,303.9 L1839.0,226.6 L1839.4,287.1 L1839.8,272.3 L1840.3,293.1 L1840.7,305.3 L1841.1,274.0 L1841.5,246.5 L1841.9,258.2 L1842.4,211.0 L1842.8,301.3 L1843.2,287.2 L1843.6,301.1 L1844.1,295.1 L1844.5,286.3 L1844.9,302.3 L1845.3,298.6 L1845.7,284.3 L1846.2,302.1 L1846.6,274.7 L1847.0,289.0 L1847.4,288.2 L1847.9,293.3 L1848.3,296.8 L1848.7,271.9 L1849.1,271.7 L1849.5,295.9 L1850.0,254.4 L1850.4,213.1 L1850.8,273.5 L1851.2,290.4 L1851.7,282.6 L1852.1,285.6 L1852.5,293.9 L1852.9,287.7 L1853.3,205.2 L1853.8,293.2 L1854.2,260.4 L1854.6,296.1 L1855.0,287.5 L1855.5,279.0 L1855.9,260.3 L1856.3,275.2 L1856.7,259.6 L1857.1,286.7 L1857.6,294.4 L1858.0,278.5 L1858.4,286.4 L1858.8,295.6 L1859.3,276.0 L1859.7,272.3 L1860.1,283.7 L1860.5,292.7 L1860.9,243.2 L1861.4,289.4 L1861.8,291.3 L1862.2,293.8 L1862.6,291.5 L1863.1,268.1 L1863.5,243.2 L1863.9,239.0 L1864.3,287.7 L1864.7,281.5 L1865.2,231.4 L1865.6,287.5 L1866.0,285.0 L1866.4,290.0 L1866.9,289.0 L1867.3,266.4 L1867.7,217.1 L1868.1,236.4 L1868.5,282.2 L1869.0,287.4 L1869.4,282.9 L1869.8,257.2 L1870.2,270.5 L1870.7,281.1 L1871.1,285.5 L1871.5,271.7 L1871.9,239.0 L1872.3,254.5 L1872.8,237.5 L1873.2,263.1 L1873.6,216.1 L1874.0,275.8 L1874.5,214.4 L1874.9,274.7 L1875.3,281.0 L1875.7,276.5 L1876.1,251.6 L1876.6,282.9 L1877.0,265.6 L1877.4,276.3 L1877.8,235.7 L1878.3,197.0 L1878.7,272.9 L1879.1,258.1 L1879.5,275.7 L1879.9,244.7 L1880.4,262.1 L1880.8,278.9 L1881.2,190.6 L1881.6,239.0 L1882.1,279.1 L1882.5,260.8 L1882.9,262.0 L1883.3,266.1 L1883.7,239.7 L1884.2,269.1 L1884.6,195.2 L1885.0,224.6 L1885.4,274.8 L1885.9,277.2 L1886.3,269.6 L1886.7,246.9 L1887.1,259.0 L1887.5,248.0 L1888.0,238.7 L1888.4,190.4 L1888.8,275.0 L1889.2,236.0 L1889.7,180.4 L1890.1,269.3 L1890.5,255.8" clip-path="url(#plotclip)" fill="none" stroke="#0000ff" stroke-width="3" stroke-linejoin="miter" stroke-linecap="butt"/>
<path d="M201.50,1423.51 L202.03,1423.51 L202.56,1423.50 L203.08,1423.49 L203.61,1423.47 L204.14,1423.45 L204.67,1423.43 L205.19,1423.40 L205.72,1423.37 L206.25,1423.33 L206.78,1423.28 L207.31,1423.24 L207.83,1423.19 L208.36,1423.13 L208.89,1423.07 L209.42,1423.01 L209.94,1422.94 L210.47,1422.86 L211.00,1422.79 L211.53,1422.70 L212.06,1422.62 L212.58,1422.53 L213.11,1422.43 L213.64,1422.34 L214.17,1422.23 L214.70,1422.13 L215.22,1422.02 L215.75,1421.90 L216.28,1421.79 L216.81,1421.66 L217.33,1421.54 L217.86,1421.41 L218.39,1421.28 L218.92,1421.14 L219.45,1421.00 L219.97,1420.86 L220.50,1420.71 L221.03,1420.56 L221.56,1420.40 L222.08,1420.25 L222.61,1420.09 L223.14,1419.92 L223.67,1419.75 L224.20,1419.58 L224.72,1419.41 L225.25,1419.23 L225.78,1419.05 L226.31,1418.87 L226.84,1418.68 L227.36,1418.50 L227.89,1418.30 L228.42,1418.11 L228.95,1417.91 L229.47,1417.71 L230.00,1417.51 L230.53,1417.31 L231.06,1417.10 L231.59,1416.89 L232.11,1416.68 L232.64,1416.46 L233.17,1416.24 L233.70,1416.02 L234.22,1415.80 L234.75,1415.58 L235.28,1415.35 L235.81,1415.12 L236.34,1414.89 L236.86,1414.66 L237.39,1414.42 L237.92,1414.19 L238.45,1413.95 L238.97,1413.71 L239.50,1413.46 L240.03,1413.22 L240.56,1412.97 L241.09,1412.72 L241.61,1412.47 L242.14,1412.22 L242.67,1411.96 L243.20,1411.71 L243.72,1411.45 L244.25,1411.19 L244.78,1410.93 L245.31,1410.67 L245.84,1410.41 L246.36,1410.14 L246.89,1409.87 L247.42,1409.60 L247.95,1409.34 L248.48,1409.06 L249.00,1408.79 L249.53,1408.52 L250.06,1408.24 L250.59,1407.97 L251.11,1407.69 L251.64,1407.41 L252.17,1407.13 L252.70,1406.85 L253.23,1406.56 L253.75,1406.28 L254.28,1405.99 L254.81,1405.71 L255.34,1405.42 L255.86,1405.13 L256.39,1404.84 L256.92,1404.55 L257.45,1404.26 L257.98,1403.97 L258.50,1403.67 L259.03,1403.38 L259.56,1403.08 L260.09,1402.79 L260.62,1402.49 L261.14,1402.19 L261.67,1401.89 L262.20,1401.59 L262.73,1401.29 L263.25,1400.99 L263.78,1400.69 L264.31,1400.38 L264.84,1400.08 L265.37,1399.77 L265.89,1399.47 L266.42,1399.16 L266.95,1398.85 L267.48,1398.54 L268.00,1398.23 L268.53,1397.92 L269.06,1397.61 L269.59,1397.30 L270.12,1396.99 L270.64,1396.68 L271.17,1396.36 L271.70,1396.05 L272.23,1395.74 L272.75,1395.42 L273.28,1395.10 L273.81,1394.79 L274.34,1394.47 L274.87,1394.15 L275.39,1393.84 L275.92,1393.52 L276.45,1393.20 L276.98,1392.88 L277.50,1392.56 L278.03,1392.24 L278.56,1391.91 L279.09,1391.59 L279.62,1391.27 L280.14,1390.95 L280.67,1390.62 L281.20,1390.30 L281.73,1389.97 L282.26,1389.65 L282.78,1389.32 L283.31,1389.00 L283.84,1388.67 L284.37,1388.35 L284.89,1388.02 L285.42,1387.69 L285.95,1387.36 L290.17,1384.72 L294.39,1382.06 L298.62,1379.37 L302.84,1376.67 L307.06,1373.95 L311.29,1371.21 L315.51,1368.46 L319.73,1365.69 L323.95,1362.92 L328.18,1360.13 L332.40,1357.33 L336.62,1354.53 L340.84,1351.72 L345.06,1348.90 L349.29,1346.07 L353.51,1343.24 L357.73,1340.40 L361.95,1337.55 L366.18,1334.70 L370.40,1331.85 L374.62,1328.99 L378.85,1326.13 L383.07,1323.26 L387.29,1320.39 L391.51,1317.52 L395.74,1314.64 L399.96,1311.76 L404.18,1308.88 L408.40,1306.00 L412.62,1303.11 L416.85,1300.22 L421.07,1297.33 L425.29,1294.43 L429.51,1291.54 L433.74,1288.64 L437.96,1285.74 L442.18,1282.84 L446.41,1279.94 L450.63,1277.04 L454.85,1274.13 L459.07,1271.22 L463.30,1268.32 L467.52,1265.41 L471.74,1262.50 L475.96,1259.59 L480.19,1256.67 L484.41,1253.76 L488.63,1250.85 L492.85,1247.93 L497.07,1245.01 L501.30,1242.10 L505.52,1239.18 L509.74,1236.26 L513.97,1233.34 L518.19,1230.42 L522.41,1227.50 L526.63,1224.58 L530.86,1221.65 L535.08,1218.73 L539.30,1215.81 L543.52,1212.88 L547.75,1209.96 L551.97,1207.03 L556.19,1204.11 L560.41,1201.18 L564.64,1198.26 L568.86,1195.33 L573.08,1192.40 L577.30,1189.47 L581.52,1186.54 L585.75,1183.61 L589.97,1180.69 L594.19,1177.76 L598.41,1174.83 L602.64,1171.90 L606.86,1168.96 L611.08,1166.03 L615.31,1163.10 L619.53,1160.17 L623.75,1157.24 L627.97,1154.31 L632.20,1151.37 L636.42,1148.44 L640.64,1145.51 L644.86,1142.57 L649.08,1139.64 L653.31,1136.71 L657.53,1133.77 L661.75,1130.84 L665.98,1127.90 L670.20,1124.97 L674.42,1122.03 L678.64,1119.10 L682.87,1116.16 L687.09,1113.22 L691.31,1110.29 L695.53,1107.35 L699.75,1104.42 L703.98,1101.48 L708.20,1098.54 L712.42,1095.61 L716.65,1092.67 L720.87,1089.73 L725.09,1086.79 L729.31,1083.86 L733.54,1080.92 L737.76,1077.98 L741.98,1075.04 L746.20,1072.10 L750.42,1069.17 L754.65,1066.23 L758.87,1063.29 L763.09,1060.35 L767.32,1057.41 L771.54,1054.47 L775.76,1051.53 L779.98,1048.59 L784.21,1045.65 L788.43,1042.71 L792.65,1039.78 L796.87,1036.84 L801.10,1033.90 L805.32,1030.96 L809.54,1028.02 L813.76,1025.08 L817.99,1022.14 L822.21,1019.19 L826.43,1016.25 L830.65,1013.31 L834.88,1010.37 L839.10,1007.43 L843.32,1004.49 L847.54,1001.55 L851.77,998.61 L855.99,995.67 L860.21,992.73 L864.43,989.79 L868.65,986.85 L872.88,983.90 L877.10,980.96 L881.32,978.02 L885.55,975.08 L889.77,972.14 L893.99,969.20 L898.21,966.25 L902.44,963.31 L906.66,960.37 L910.88,957.43 L915.10,954.49 L919.33,951.54 L923.55,948.60 L927.77,945.66 L931.99,942.72 L936.21,939.78 L940.44,936.83 L944.66,933.89 L948.88,930.95 L953.11,928.01 L957.33,925.06 L961.55,922.12 L965.77,919.18 L970.00,916.23 L974.22,913.29 L978.44,910.35 L982.66,907.41 L986.88,904.46 L991.11,901.52 L995.33,898.58 L999.55,895.63 L1003.77,892.69 L1008.00,889.75 L1012.22,886.80 L1016.44,883.86 L1020.67,880.92 L1024.89,877.97 L1029.11,875.03 L1033.33,872.09 L1037.56,869.14 L1041.78,866.20 L1046.00,863.26 L1050.22,860.31 L1054.44,857.37 L1058.67,854.43 L1062.89,851.48 L1067.11,848.54 L1071.34,845.59 L1075.56,842.65 L1079.78,839.71 L1084.00,836.76 L1088.22,833.82 L1092.45,830.88 L1096.67,827.93 L1100.89,824.99 L1105.12,822.04 L1109.34,819.10 L1113.56,816.15 L1117.78,813.21 L1122.01,810.27 L1126.23,807.32 L1130.45,804.38 L1134.67,801.43 L1138.89,798.49 L1143.12,795.55 L1147.34,792.60 L1151.56,789.66 L1155.79,786.71 L1160.01,783.77 L1164.23,780.82 L1168.45,777.88 L1172.67,774.93 L1176.90,771.99 L1181.12,769.04 L1185.34,766.10 L1189.57,763.16 L1193.79,760.21 L1198.01,757.27 L1202.23,754.32 L1206.46,751.38 L1210.68,748.43 L1214.90,745.49 L1219.12,742.54 L1223.35,739.60 L1227.57,736.65 L1231.79,733.71 L1236.01,730.76 L1240.24,727.82 L1244.46,724.87 L1248.68,721.93 L1252.90,718.98 L1257.12,716.04 L1261.35,713.09 L1265.57,710.15 L1269.79,707.20 L1274.02,704.26 L1278.24,701.31 L1282.46,698.37 L1286.68,695.42 L1290.91,692.48 L1295.13,689.53 L1299.35,686.59 L1303.57,683.64 L1307.80,680.70 L1312.02,677.75 L1316.24,674.81 L1320.46,671.86 L1324.68,668.92 L1328.91,665.97 L1333.13,663.03 L1337.35,660.08 L1341.58,657.14 L1345.80,654.19 L1350.02,651.25 L1354.24,648.30 L1358.47,645.35 L1362.69,642.41 L1366.91,639.46 L1371.13,636.52 L1375.36,633.57 L1379.58,630.63 L1383.80,627.68 L1388.02,624.74 L1392.25,621.79 L1396.47,618.85 L1400.69,615.90 L1404.91,612.95 L1409.13,610.01 L1413.36,607.06 L1417.58,604.12 L1421.80,601.17 L1426.03,598.23 L1430.25,595.28 L1434.47,592.34 L1438.69,589.39 L1442.92,586.44 L1447.14,583.50 L1451.36,580.55 L1455.58,577.61 L1459.81,574.66 L1464.03,571.72 L1468.25,568.77 L1472.47,565.82 L1476.70,562.88 L1480.92,559.93 L1485.14,556.99 L1489.36,554.04 L1493.59,551.10 L1497.81,548.15 L1502.03,545.20 L1506.25,542.26 L1510.47,539.31 L1514.70,536.37 L1518.92,533.42 L1523.14,530.48 L1527.37,527.53 L1531.59,524.58 L1535.81,521.64 L1540.03,518.69 L1544.26,515.75 L1548.48,512.80 L1552.70,509.85 L1556.92,506.91 L1561.14,503.96 L1565.37,501.02 L1569.59,498.07 L1573.81,495.12 L1578.04,492.18 L1582.26,489.23 L1586.48,486.29 L1590.70,483.34 L1594.92,480.39 L1599.15,477.45 L1603.37,474.50 L1607.59,471.56 L1611.82,468.61 L1616.04,465.66 L1620.26,462.72 L1624.48,459.77 L1628.70,456.83 L1632.93,453.88 L1637.15,450.93 L1641.37,447.99 L1645.60,445.04 L1649.82,442.10 L1654.04,439.15 L1658.26,436.20 L1662.49,433.26 L1666.71,430.31 L1670.93,427.37 L1675.15,424.42 L1679.38,421.47 L1683.60,418.53 L1687.82,415.58 L1692.04,412.63 L1696.26,409.69 L1700.49,406.74 L1704.71,403.80 L1708.93,400.85 L1713.16,397.90 L1717.38,394.96 L1721.60,392.01 L1725.82,389.06 L1730.05,386.12 L1734.27,383.17 L1738.49,380.23 L1742.71,377.28 L1746.93,374.33 L1751.16,371.39 L1755.38,368.44 L1759.60,365.49 L1763.83,362.55 L1768.05,359.60 L1772.27,356.66 L1776.49,353.71 L1780.71,350.76 L1784.94,347.82 L1789.16,344.87 L1793.38,341.92 L1797.61,338.98 L1801.83,336.03 L1806.05,333.09 L1810.27,330.14 L1814.50,327.19 L1818.72,324.25 L1822.94,321.30 L1827.16,318.35 L1831.38,315.41 L1835.61,312.46 L1839.83,309.51 L1844.05,306.57 L1848.28,303.62 L1852.50,300.67 L1856.72,297.73 L1860.94,294.78 L1865.16,291.84 L1869.39,288.89 L1873.61,285.94 L1877.83,283.00 L1882.06,280.05 L1886.28,277.10 L1890.50,274.16" fill="none" stroke="#ff0000" stroke-width="9" stroke-linejoin="round" stroke-linecap="butt"/>
<path d="M201.50,747.00 L202.03,738.40 L202.56,730.24 L203.08,722.70 L203.61,715.95 L204.14,710.15 L204.67,705.47 L205.19,701.22 L205.72,697.08 L206.25,693.21 L206.78,689.81 L207.31,687.05 L207.83,685.14 L208.36,684.24 L208.89,684.56 L209.42,686.07 L209.94,688.52 L210.47,691.65 L211.00,695.22 L211.53,698.95 L212.06,702.60 L212.58,705.91 L213.11,708.93 L213.64,711.96 L214.17,715.00 L214.70,718.08 L215.22,721.23 L215.75,724.46 L216.28,727.80 L216.81,731.27 L217.33,734.90 L217.86,738.70 L218.39,742.70 L218.92,747.19 L219.45,752.19 L219.97,757.58 L220.50,763.21 L221.03,768.95 L221.56,774.66 L222.08,780.21 L222.61,785.46 L223.14,790.27 L223.67,794.51 L224.20,798.32 L224.72,801.87 L225.25,805.20 L225.78,808.36 L226.31,811.41 L226.84,814.40 L227.36,817.37 L227.89,820.37 L228.42,823.46 L228.95,826.68 L229.47,830.09 L230.00,833.71 L230.53,837.52 L231.06,841.47 L231.59,845.52 L232.11,849.62 L232.64,853.74 L233.17,857.83 L233.70,861.84 L234.22,865.73 L234.75,869.47 L235.28,873.00 L235.81,876.29 L236.34,879.29 L236.86,882.11 L237.39,884.83 L237.92,887.48 L238.45,890.05 L238.97,892.55 L239.50,894.98 L240.03,897.34 L240.56,899.65 L241.09,901.90 L241.61,904.10 L242.14,906.26 L242.67,908.37 L243.20,910.45 L243.72,912.49 L244.25,914.50 L244.78,916.49 L245.31,918.46 L245.84,920.41 L246.36,922.35 L246.89,924.28 L247.42,926.21 L247.95,928.14 L248.48,930.07 L249.00,932.00 L249.53,933.92 L250.06,935.83 L250.59,937.72 L251.11,939.59 L251.64,941.45 L252.17,943.28 L252.70,945.08 L253.23,946.86 L253.75,948.61 L254.28,950.32 L254.81,952.00 L255.34,953.63 L255.86,955.23 L256.39,956.78 L256.92,958.28 L257.45,959.73 L257.98,961.12 L258.50,962.47 L259.03,963.80 L259.56,965.11 L260.09,966.41 L260.62,967.69 L261.14,968.95 L261.67,970.18 L262.20,971.40 L262.73,972.60 L263.25,973.77 L263.78,974.91 L264.31,976.03 L264.84,977.13 L265.37,978.20 L265.89,979.23 L266.42,980.24 L266.95,981.22 L267.48,982.17 L268.00,983.08 L268.53,983.96 L269.06,984.80 L269.59,985.61 L270.12,986.38 L270.64,987.12 L271.17,987.86 L271.70,988.58 L272.23,989.30 L272.75,990.01 L273.28,990.71 L273.81,991.40 L274.34,992.09 L274.87,992.76 L275.39,993.43 L275.92,994.09 L276.45,994.74 L276.98,995.38 L277.50,996.01 L278.03,996.64 L278.56,997.26 L279.09,997.87 L279.62,998.47 L280.14,999.06 L280.67,999.65 L281.20,1000.23 L281.73,1000.80 L282.26,1001.36 L282.78,1001.91 L283.31,1002.46 L283.84,1003.00 L284.37,1003.53 L284.89,1004.05 L285.42,1004.57 L285.95,1005.07 L290.17,1008.86 L294.39,1012.16 L298.62,1015.00 L302.84,1017.47 L307.06,1019.70 L311.29,1021.71 L315.51,1023.53 L319.73,1025.16 L323.95,1026.64 L328.18,1027.98 L332.40,1029.21 L336.62,1030.34 L340.84,1031.36 L345.06,1032.24 L349.29,1032.98 L353.51,1033.65 L357.73,1034.29 L361.95,1034.84 L366.18,1035.24 L370.40,1035.44 L374.62,1035.50 L378.85,1035.56 L383.07,1035.60 L387.29,1035.62 L391.51,1035.63 L395.74,1035.52 L399.96,1035.24 L404.18,1034.83 L408.40,1034.36 L412.62,1033.89 L416.85,1033.37 L421.07,1032.76 L425.29,1032.06 L429.51,1031.32 L433.74,1030.56 L437.96,1029.75 L442.18,1028.87 L446.41,1027.95 L450.63,1026.98 L454.85,1026.00 L459.07,1024.98 L463.30,1023.92 L467.52,1022.82 L471.74,1021.70 L475.96,1020.56 L480.19,1019.39 L484.41,1018.18 L488.63,1016.95 L492.85,1015.70 L497.07,1014.42 L501.30,1013.12 L505.52,1011.78 L509.74,1010.42 L513.97,1009.04 L518.19,1007.64 L522.41,1006.21 L526.63,1004.75 L530.86,1003.28 L535.08,1001.78 L539.30,1000.25 L543.52,998.71 L547.75,997.14 L551.97,995.55 L556.19,993.94 L560.41,992.31 L564.64,990.67 L568.86,988.99 L573.08,987.30 L577.30,985.59 L581.52,983.86 L585.75,982.12 L589.97,980.35 L594.19,978.56 L598.41,976.76 L602.64,974.94 L606.86,973.10 L611.08,971.25 L615.31,969.38 L619.53,967.49 L623.75,965.59 L627.97,963.67 L632.20,961.73 L636.42,959.78 L640.64,957.82 L644.86,955.84 L649.08,953.85 L653.31,951.84 L657.53,949.82 L661.75,947.79 L665.98,945.74 L670.20,943.69 L674.42,941.61 L678.64,939.53 L682.87,937.43 L687.09,935.33 L691.31,933.21 L695.53,931.08 L699.75,928.94 L703.98,926.78 L708.20,924.62 L712.42,922.45 L716.65,920.27 L720.87,918.07 L725.09,915.87 L729.31,913.66 L733.54,911.44 L737.76,909.21 L741.98,906.97 L746.20,904.72 L750.42,902.47 L754.65,900.21 L758.87,897.93 L763.09,895.65 L767.32,893.37 L771.54,891.08 L775.76,888.77 L779.98,886.47 L784.21,884.15 L788.43,881.83 L792.65,879.50 L796.87,877.17 L801.10,874.83 L805.32,872.49 L809.54,870.14 L813.76,867.78 L817.99,865.42 L822.21,863.05 L826.43,860.68 L830.65,858.30 L834.88,855.91 L839.10,853.52 L843.32,851.13 L847.54,848.73 L851.77,846.32 L855.99,843.91 L860.21,841.50 L864.43,839.08 L868.65,836.65 L872.88,834.22 L877.10,831.79 L881.32,829.35 L885.55,826.90 L889.77,824.45 L893.99,822.00 L898.21,819.54 L902.44,817.08 L906.66,814.61 L910.88,812.14 L915.10,809.67 L919.33,807.19 L923.55,804.70 L927.77,802.21 L931.99,799.72 L936.21,797.22 L940.44,794.72 L944.66,792.22 L948.88,789.71 L953.11,787.20 L957.33,784.68 L961.55,782.16 L965.77,779.63 L970.00,777.11 L974.22,774.57 L978.44,772.04 L982.66,769.50 L986.88,766.96 L991.11,764.41 L995.33,761.86 L999.55,759.31 L1003.77,756.75 L1008.00,754.19 L1012.22,751.63 L1016.44,749.06 L1020.67,746.49 L1024.89,743.92 L1029.11,741.34 L1033.33,738.76 L1037.56,736.18 L1041.78,733.59 L1046.00,731.00 L1050.22,728.41 L1054.44,725.81 L1058.67,723.21 L1062.89,720.61 L1067.11,718.01 L1071.34,715.40 L1075.56,712.79 L1079.78,710.18 L1084.00,707.56 L1088.22,704.94 L1092.45,702.32 L1096.67,699.70 L1100.89,697.07 L1105.12,694.44 L1109.34,691.81 L1113.56,689.17 L1117.78,686.53 L1122.01,683.89 L1126.23,681.25 L1130.45,678.60 L1134.67,675.96 L1138.89,673.30 L1143.12,670.65 L1147.34,668.00 L1151.56,665.34 L1155.79,662.68 L1160.01,660.01 L1164.23,657.35 L1168.45,654.68 L1172.67,652.01 L1176.90,649.34 L1181.12,646.67 L1185.34,643.99 L1189.57,641.31 L1193.79,638.63 L1198.01,635.95 L1202.23,633.26 L1206.46,630.57 L1210.68,627.88 L1214.90,625.19 L1219.12,622.50 L1223.35,619.80 L1227.57,617.10 L1231.79,614.40 L1236.01,611.70 L1240.24,609.00 L1244.46,606.29 L1248.68,603.58 L1252.90,600.87 L1257.12,598.16 L1261.35,595.45 L1265.57,592.73 L1269.79,590.01 L1274.02,587.29 L1278.24,584.57 L1282.46,581.85 L1286.68,579.12 L1290.91,576.40 L1295.13,573.67 L1299.35,570.94 L1303.57,568.20 L1307.80,565.47 L1312.02,562.73 L1316.24,560.00 L1320.46,557.26 L1324.68,554.52 L1328.91,551.78 L1333.13,549.03 L1337.35,546.29 L1341.58,543.54 L1345.80,540.79 L1350.02,538.04 L1354.24,535.29 L1358.47,532.53 L1362.69,529.78 L1366.91,527.02 L1371.13,524.26 L1375.36,521.50 L1379.58,518.74 L1383.80,515.98 L1388.02,513.21 L1392.25,510.45 L1396.47,507.68 L1400.69,504.91 L1404.91,502.14 L1409.13,499.37 L1413.36,496.60 L1417.58,493.82 L1421.80,491.05 L1426.03,488.27 L1430.25,485.49 L1434.47,482.71 L1438.69,479.93 L1442.92,477.15 L1447.14,474.36 L1451.36,471.58 L1455.58,468.79 L1459.81,466.00 L1464.03,463.21 L1468.25,460.42 L1472.47,457.63 L1476.70,454.84 L1480.92,452.04 L1485.14,449.25 L1489.36,446.45 L1493.59,443.65 L1497.81,440.85 L1502.03,438.05 L1506.25,435.25 L1510.47,432.45 L1514.70,429.64 L1518.92,426.84 L1523.14,424.03 L1527.37,421.22 L1531.59,418.41 L1535.81,415.60 L1540.03,412.79 L1544.26,409.98 L1548.48,407.17 L1552.70,404.35 L1556.92,401.54 L1561.14,398.72 L1565.37,395.90 L1569.59,393.08 L1573.81,390.26 L1578.04,387.44 L1582.26,384.62 L1586.48,381.80 L1590.70,378.97 L1594.92,376.15 L1599.15,373.32 L1603.37,370.50 L1607.59,367.67 L1611.82,364.84 L1616.04,362.01 L1620.26,359.18 L1624.48,356.35 L1628.70,353.51 L1632.93,350.68 L1637.15,347.84 L1641.37,345.01 L1645.60,342.17 L1649.82,339.33 L1654.04,336.49 L1658.26,333.65 L1662.49,330.81 L1666.71,327.97 L1670.93,325.13 L1675.15,322.28 L1679.38,319.44 L1683.60,316.59 L1687.82,313.75 L1692.04,310.90 L1696.26,308.05 L1700.49,305.20 L1704.71,302.36 L1708.93,299.50 L1713.16,296.65 L1717.38,293.80 L1721.60,290.95 L1725.82,288.09 L1730.05,285.24 L1734.27,282.38 L1738.49,279.53 L1742.71,276.67 L1746.93,273.81 L1751.16,270.95 L1755.38,268.09 L1759.60,265.23 L1763.83,262.37 L1768.05,259.51 L1772.27,256.64 L1776.49,253.78 L1780.71,250.92 L1784.94,248.05 L1789.16,245.18 L1793.38,242.32 L1797.61,239.45 L1801.83,236.58 L1806.05,233.71 L1810.27,230.84 L1814.50,227.97 L1818.72,225.10 L1822.94,222.23 L1827.16,219.36 L1831.38,216.48 L1835.61,213.61 L1839.83,210.73 L1844.05,207.86 L1848.28,204.98 L1852.50,202.10 L1856.72,199.23 L1860.94,196.35 L1865.16,193.47 L1869.39,190.59 L1873.61,187.71 L1877.83,184.83 L1882.06,181.94 L1886.28,179.06 L1890.50,176.18" fill="none" stroke="#ff0000" stroke-width="9" stroke-linejoin="round" stroke-linecap="butt"/>
</g>
<g font-family="'Liberation Serif', 'Times New Roman', Times, serif" fill="#404040">
<text x="200.8" y="1531.6" font-size="64.2" text-anchor="middle">0</text>
<text x="411.9" y="1531.6" font-size="64.2" text-anchor="middle">5</text>
<text x="623.0" y="1531.6" font-size="64.2" text-anchor="middle">10</text>
<text x="834.2" y="1531.6" font-size="64.2" text-anchor="middle">15</text>
<text x="1045.3" y="1531.6" font-size="64.2" text-anchor="middle">20</text>
<text x="1256.4" y="1531.6" font-size="64.2" text-anchor="middle">25</text>
<text x="1467.5" y="1531.6" font-size="64.2" text-anchor="middle">30</text>
<text x="1678.7" y="1531.6" font-size="64.2" text-anchor="middle">35</text>
<text x="1889.8" y="1531.6" font-size="64.2" text-anchor="middle">40</text>
<text x="181.4" y="1475.3" font-size="64.2" text-anchor="end">0</text>
<text x="178.9" y="1339.6" font-size="64.2" text-anchor="end">0.1</text>
<text x="181.4" y="1203.8" font-size="64.2" text-anchor="end">0.2</text>
<text x="181.4" y="1068.1" font-size="64.2" text-anchor="end">0.3</text>
<text x="181.4" y="932.3" font-size="64.2" text-anchor="end">0.4</text>
<text x="181.4" y="796.6" font-size="64.2" text-anchor="end">0.5</text>
<text x="181.4" y="660.9" font-size="64.2" text-anchor="end">0.6</text>
<text x="181.4" y="525.1" font-size="64.2" text-anchor="end">0.7</text>
<text x="181.4" y="389.4" font-size="64.2" text-anchor="end">0.8</text>
<text x="181.4" y="253.6" font-size="64.2" text-anchor="end">0.9</text>
<text x="178.9" y="117.9" font-size="64.2" text-anchor="end">1</text>
<text x="203.5" y="92.4" font-size="78.0" fill="#262626">×</text>
<text x="251.4" y="82.2" font-size="64.2">10</text>
<text x="317.3" y="52.300000000000004" font-size="49.0">-</text>
<text transform="translate(333.90000000000003,51.7) scale(0.89,1.035)" font-size="49.0">3</text>
<text x="441.30" y="1613.0" font-size="69.6" textLength="231.40" lengthAdjust="spacing">Relative</text>
<text x="689.80" y="1613.0" font-size="69.6" textLength="226.00" lengthAdjust="spacing">distance</text>
<text x="933.00" y="1613.0" font-size="69.6" textLength="53.40" lengthAdjust="spacing">in</text>
<text x="1004.50" y="1613.0" font-size="69.6" textLength="171.60" lengthAdjust="spacing">Width</text>
<text x="1193.80" y="1613.0" font-size="69.6" textLength="242.20" lengthAdjust="spacing">direction</text>
<text transform="translate(1457.2,1612.6) scale(0.875,0.752)" font-size="100" font-weight="normal" fill="#262626" stroke="#262626" stroke-width="2.4" stroke-linejoin="miter">Δ</text>
<text x="1515.0" y="1613.0" font-size="69.6" textLength="158.5" lengthAdjust="spacing">d/mm</text>
<g transform="translate(77.2,0) rotate(-90)" fill="#262626">
<text x="-1028.3" y="0" font-size="69.6" textLength="322.3" lengthAdjust="spacing">Uncertainty</text>
<text transform="translate(-685.6,-0.6) scale(0.77,0.615)" font-size="100" font-style="italic" font-weight="normal" stroke="#262626" stroke-width="1.4">σ</text>
<text x="-646.4" y="0" font-size="69.6" textLength="124.6" lengthAdjust="spacing">/mm</text>
</g>
</g>
</svg>
</body></html>
